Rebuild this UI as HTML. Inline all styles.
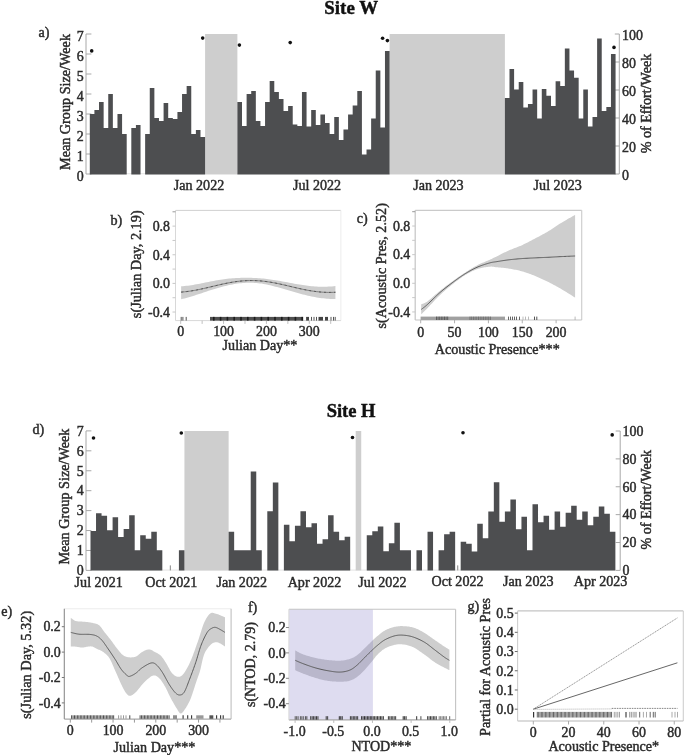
<!DOCTYPE html>
<html><head><meta charset="utf-8"><title>Site W / Site H</title>
<style>
html,body{margin:0;padding:0;background:#fff;}
body{width:685px;height:755px;overflow:hidden;}
svg{display:block;font-family:"Liberation Serif", serif;filter:blur(0.4px);}
</style></head>
<body>
<svg width="685" height="755" viewBox="0 0 685 755">
<rect x="0" y="0" width="685" height="755" fill="#fff"/>
<line x1="89.80" y1="173.70" x2="615.57" y2="173.70" stroke="#dedede" stroke-width="0.8"/>
<line x1="86.00" y1="34.00" x2="86.00" y2="174.00" stroke="#a8a8a8" stroke-width="1"/>
<line x1="86.00" y1="174.00" x2="91.40" y2="174.00" stroke="#a8a8a8" stroke-width="1"/>
<line x1="86.00" y1="154.00" x2="91.40" y2="154.00" stroke="#a8a8a8" stroke-width="1"/>
<line x1="86.00" y1="134.00" x2="91.40" y2="134.00" stroke="#a8a8a8" stroke-width="1"/>
<line x1="86.00" y1="114.00" x2="91.40" y2="114.00" stroke="#a8a8a8" stroke-width="1"/>
<line x1="86.00" y1="94.00" x2="91.40" y2="94.00" stroke="#a8a8a8" stroke-width="1"/>
<line x1="86.00" y1="74.00" x2="91.40" y2="74.00" stroke="#a8a8a8" stroke-width="1"/>
<line x1="86.00" y1="54.00" x2="91.40" y2="54.00" stroke="#a8a8a8" stroke-width="1"/>
<line x1="86.00" y1="34.00" x2="91.40" y2="34.00" stroke="#a8a8a8" stroke-width="1"/>
<line x1="619.30" y1="34.00" x2="619.30" y2="174.00" stroke="#a8a8a8" stroke-width="1"/>
<line x1="614.80" y1="174.00" x2="619.30" y2="174.00" stroke="#a8a8a8" stroke-width="1"/>
<line x1="614.80" y1="146.00" x2="619.30" y2="146.00" stroke="#a8a8a8" stroke-width="1"/>
<line x1="614.80" y1="118.00" x2="619.30" y2="118.00" stroke="#a8a8a8" stroke-width="1"/>
<line x1="614.80" y1="90.00" x2="619.30" y2="90.00" stroke="#a8a8a8" stroke-width="1"/>
<line x1="614.80" y1="62.00" x2="619.30" y2="62.00" stroke="#a8a8a8" stroke-width="1"/>
<line x1="614.80" y1="34.00" x2="619.30" y2="34.00" stroke="#a8a8a8" stroke-width="1"/>
<rect x="205.10" y="34.00" width="32.28" height="140.40" fill="#cecece"/>
<rect x="389.58" y="34.00" width="115.30" height="140.40" fill="#cecece"/>
<path d="M89.80,174.40V114.00H94.41V110.00H99.02V102.00H103.64V128.00H108.25V94.00H112.86V128.00H117.47V114.00H122.08V134.00H126.70V174.40ZM131.31,174.40V128.00H135.92V125.00H140.53V174.40ZM145.14,174.40V134.00H149.76V88.00H154.37V118.00H158.98V121.00H163.59V103.00H168.20V118.00H172.82V119.00H177.43V112.00H182.04V94.00H186.65V86.00H191.26V134.00H195.88V130.00H200.49V137.00H205.10V174.40ZM237.38,174.40V102.00H242.00V126.00H246.61V94.00H251.22V91.00H255.83V121.00H260.44V126.00H265.06V102.00H269.67V81.00H274.28V92.00H278.89V99.00H283.50V111.00H288.12V106.00H292.73V124.60H297.34V126.00H301.95V92.00H306.56V126.60H311.18V110.00H315.79V125.00H320.40V114.60H325.01V123.00H329.62V134.00H334.24V117.00H338.85V140.00H343.46V129.60H348.07V114.60H352.68V105.40H357.30V91.00H361.91V154.40H366.52V149.60H371.13V118.40H375.74V70.60H380.36V127.60H384.97V51.00H389.58V174.40ZM504.88,174.40V98.00H509.49V69.00H514.10V89.60H518.72V82.00H523.33V107.40H527.94V104.00H532.55V89.60H537.16V118.60H541.78V89.00H546.39V95.80H551.00V106.00H555.61V81.20H560.22V86.00H564.84V48.40H569.45V70.60H574.06V77.80H578.67V118.40H583.28V89.60H587.90V126.40H592.51V117.00H597.12V38.60H601.73V111.00H606.34V107.00H610.96V54.00H615.57V174.40Z" fill="#4d4e50"/>
<circle cx="91.70" cy="50.90" r="1.8" fill="#111"/>
<circle cx="202.70" cy="38.10" r="1.8" fill="#111"/>
<circle cx="239.40" cy="45.10" r="1.8" fill="#111"/>
<circle cx="290.20" cy="42.60" r="1.8" fill="#111"/>
<circle cx="382.60" cy="38.30" r="1.8" fill="#111"/>
<circle cx="387.40" cy="40.60" r="1.8" fill="#111"/>
<circle cx="614.00" cy="47.40" r="1.8" fill="#111"/>
<line x1="90.50" y1="570.10" x2="615.38" y2="570.10" stroke="#dedede" stroke-width="0.8"/>
<line x1="86.00" y1="431.00" x2="86.00" y2="570.40" stroke="#a8a8a8" stroke-width="1"/>
<line x1="86.00" y1="570.40" x2="91.40" y2="570.40" stroke="#a8a8a8" stroke-width="1"/>
<line x1="86.00" y1="550.47" x2="91.40" y2="550.47" stroke="#a8a8a8" stroke-width="1"/>
<line x1="86.00" y1="530.54" x2="91.40" y2="530.54" stroke="#a8a8a8" stroke-width="1"/>
<line x1="86.00" y1="510.61" x2="91.40" y2="510.61" stroke="#a8a8a8" stroke-width="1"/>
<line x1="86.00" y1="490.68" x2="91.40" y2="490.68" stroke="#a8a8a8" stroke-width="1"/>
<line x1="86.00" y1="470.75" x2="91.40" y2="470.75" stroke="#a8a8a8" stroke-width="1"/>
<line x1="86.00" y1="450.82" x2="91.40" y2="450.82" stroke="#a8a8a8" stroke-width="1"/>
<line x1="86.00" y1="430.89" x2="91.40" y2="430.89" stroke="#a8a8a8" stroke-width="1"/>
<line x1="620.20" y1="431.00" x2="620.20" y2="570.40" stroke="#a8a8a8" stroke-width="1"/>
<line x1="615.70" y1="570.40" x2="620.20" y2="570.40" stroke="#a8a8a8" stroke-width="1"/>
<line x1="615.70" y1="542.52" x2="620.20" y2="542.52" stroke="#a8a8a8" stroke-width="1"/>
<line x1="615.70" y1="514.64" x2="620.20" y2="514.64" stroke="#a8a8a8" stroke-width="1"/>
<line x1="615.70" y1="486.76" x2="620.20" y2="486.76" stroke="#a8a8a8" stroke-width="1"/>
<line x1="615.70" y1="458.88" x2="620.20" y2="458.88" stroke="#a8a8a8" stroke-width="1"/>
<line x1="615.70" y1="431.00" x2="620.20" y2="431.00" stroke="#a8a8a8" stroke-width="1"/>
<rect x="184.43" y="431.00" width="44.20" height="139.40" fill="#cecece"/>
<rect x="355.70" y="431.00" width="5.53" height="139.40" fill="#cecece"/>
<path d="M90.50,570.40V530.88H96.03V513.23H101.55V515.84H107.08V530.28H112.60V517.24H118.12V536.90H123.65V528.88H129.18V515.24H134.70V550.34H140.22V535.29H145.75V538.71H151.28V531.68H156.80V550.34H162.32V570.40ZM178.90,570.40V550.34H184.43V570.40ZM228.62,570.40V531.68H234.15V550.34H239.68V550.34H245.20V550.34H250.73V471.50H256.25V550.34H261.77V570.40ZM267.30,570.40V511.22H272.83V482.54H278.35V570.40ZM283.88,570.40V524.86H289.40V541.31H294.93V525.87H300.45V511.22H305.98V527.27H311.50V523.26H317.02V543.72H322.55V539.31H328.08V515.24H333.60V531.68H339.12V540.31H344.65V536.70H350.18V570.40ZM366.75,570.40V535.29H372.28V531.28H377.80V526.47H383.33V551.14H388.85V543.32H394.38V522.86H399.90V550.34H405.43V550.34H410.95V570.40ZM416.48,570.40V550.34H422.00V570.40ZM427.53,570.40V531.68H433.05V570.40ZM438.58,570.40V550.34H444.10V534.29H449.62V531.68H455.15V570.40ZM460.68,570.40V541.71H466.20V543.72H471.73V551.54H477.25V523.66H482.78V538.30H488.30V511.42H493.83V482.14H499.35V521.85H504.88V511.42H510.40V499.39H515.92V529.28H521.45V516.84H526.98V550.34H532.50V504.20H538.03V522.26H543.55V515.84H549.08V529.68H554.60V511.42H560.12V526.87H565.65V512.83H571.17V505.81H576.70V519.85H582.23V511.42H587.75V525.26H593.28V516.64H598.80V506.41H604.33V513.83H609.85V531.68H615.38V570.40Z" fill="#4d4e50"/>
<rect x="169.78" y="565.38" width="1.20" height="5.01" fill="#9a9a9a"/>
<rect x="457.08" y="565.38" width="1.20" height="5.01" fill="#9a9a9a"/>
<circle cx="93.50" cy="438.00" r="1.8" fill="#111"/>
<circle cx="181.30" cy="433.00" r="1.8" fill="#111"/>
<circle cx="352.50" cy="437.50" r="1.8" fill="#111"/>
<circle cx="463.00" cy="432.80" r="1.8" fill="#111"/>
<circle cx="612.20" cy="434.90" r="1.8" fill="#111"/>
<text x="351.20" y="14.00" font-size="18.9" text-anchor="middle" font-weight="bold" fill="#111" stroke="#111" stroke-width="0.45">Site W</text>
<text x="38.50" y="36.60" font-size="14.1" text-anchor="start" font-weight="normal" fill="#2b2b2b" stroke="#2b2b2b" stroke-width="0.45">a)</text>
<text x="83.70" y="180.95" font-size="13.9" text-anchor="end" font-weight="normal" fill="#2b2b2b" stroke="#2b2b2b" stroke-width="0.45">0</text>
<text x="83.70" y="160.95" font-size="13.9" text-anchor="end" font-weight="normal" fill="#2b2b2b" stroke="#2b2b2b" stroke-width="0.45">1</text>
<text x="83.70" y="140.95" font-size="13.9" text-anchor="end" font-weight="normal" fill="#2b2b2b" stroke="#2b2b2b" stroke-width="0.45">2</text>
<text x="83.70" y="120.95" font-size="13.9" text-anchor="end" font-weight="normal" fill="#2b2b2b" stroke="#2b2b2b" stroke-width="0.45">3</text>
<text x="83.70" y="100.95" font-size="13.9" text-anchor="end" font-weight="normal" fill="#2b2b2b" stroke="#2b2b2b" stroke-width="0.45">4</text>
<text x="83.70" y="80.95" font-size="13.9" text-anchor="end" font-weight="normal" fill="#2b2b2b" stroke="#2b2b2b" stroke-width="0.45">5</text>
<text x="83.70" y="60.95" font-size="13.9" text-anchor="end" font-weight="normal" fill="#2b2b2b" stroke="#2b2b2b" stroke-width="0.45">6</text>
<text x="83.70" y="40.95" font-size="13.9" text-anchor="end" font-weight="normal" fill="#2b2b2b" stroke="#2b2b2b" stroke-width="0.45">7</text>
<text x="622.00" y="179.75" font-size="13.9" text-anchor="start" font-weight="normal" fill="#2b2b2b" stroke="#2b2b2b" stroke-width="0.45">0</text>
<text x="622.00" y="151.71" font-size="13.9" text-anchor="start" font-weight="normal" fill="#2b2b2b" stroke="#2b2b2b" stroke-width="0.45">20</text>
<text x="622.00" y="123.67" font-size="13.9" text-anchor="start" font-weight="normal" fill="#2b2b2b" stroke="#2b2b2b" stroke-width="0.45">40</text>
<text x="622.00" y="95.63" font-size="13.9" text-anchor="start" font-weight="normal" fill="#2b2b2b" stroke="#2b2b2b" stroke-width="0.45">60</text>
<text x="622.00" y="67.59" font-size="13.9" text-anchor="start" font-weight="normal" fill="#2b2b2b" stroke="#2b2b2b" stroke-width="0.45">80</text>
<text x="622.00" y="39.55" font-size="13.9" text-anchor="start" font-weight="normal" fill="#2b2b2b" stroke="#2b2b2b" stroke-width="0.45">100</text>
<text x="69.50" y="102.00" font-size="14.2" text-anchor="middle" font-weight="normal" fill="#2b2b2b" stroke="#2b2b2b" stroke-width="0.45" transform="rotate(-90 69.5 102.0)">Mean Group Size/Week</text>
<text x="651.00" y="103.50" font-size="14.1" text-anchor="middle" font-weight="normal" fill="#2b2b2b" stroke="#2b2b2b" stroke-width="0.45" transform="rotate(-90 651.0 103.5)">% of Effort/Week</text>
<text x="199.00" y="190.40" font-size="14.1" text-anchor="middle" font-weight="normal" fill="#2b2b2b" stroke="#2b2b2b" stroke-width="0.45">Jan 2022</text>
<text x="317.00" y="190.40" font-size="14.1" text-anchor="middle" font-weight="normal" fill="#2b2b2b" stroke="#2b2b2b" stroke-width="0.45">Jul 2022</text>
<text x="438.40" y="190.40" font-size="14.1" text-anchor="middle" font-weight="normal" fill="#2b2b2b" stroke="#2b2b2b" stroke-width="0.45">Jan 2023</text>
<text x="557.70" y="190.40" font-size="14.1" text-anchor="middle" font-weight="normal" fill="#2b2b2b" stroke="#2b2b2b" stroke-width="0.45">Jul 2023</text>
<text x="351.10" y="417.00" font-size="18.5" text-anchor="middle" font-weight="bold" fill="#111" stroke="#111" stroke-width="0.45">Site H</text>
<text x="32.50" y="433.90" font-size="14.1" text-anchor="start" font-weight="normal" fill="#2b2b2b" stroke="#2b2b2b" stroke-width="0.45">d)</text>
<text x="83.60" y="575.15" font-size="13.9" text-anchor="end" font-weight="normal" fill="#2b2b2b" stroke="#2b2b2b" stroke-width="0.45">0</text>
<text x="83.60" y="555.22" font-size="13.9" text-anchor="end" font-weight="normal" fill="#2b2b2b" stroke="#2b2b2b" stroke-width="0.45">1</text>
<text x="83.60" y="535.29" font-size="13.9" text-anchor="end" font-weight="normal" fill="#2b2b2b" stroke="#2b2b2b" stroke-width="0.45">2</text>
<text x="83.60" y="515.36" font-size="13.9" text-anchor="end" font-weight="normal" fill="#2b2b2b" stroke="#2b2b2b" stroke-width="0.45">3</text>
<text x="83.60" y="495.43" font-size="13.9" text-anchor="end" font-weight="normal" fill="#2b2b2b" stroke="#2b2b2b" stroke-width="0.45">4</text>
<text x="83.60" y="475.50" font-size="13.9" text-anchor="end" font-weight="normal" fill="#2b2b2b" stroke="#2b2b2b" stroke-width="0.45">5</text>
<text x="83.60" y="455.57" font-size="13.9" text-anchor="end" font-weight="normal" fill="#2b2b2b" stroke="#2b2b2b" stroke-width="0.45">6</text>
<text x="83.60" y="435.64" font-size="13.9" text-anchor="end" font-weight="normal" fill="#2b2b2b" stroke="#2b2b2b" stroke-width="0.45">7</text>
<text x="622.50" y="575.15" font-size="13.9" text-anchor="start" font-weight="normal" fill="#2b2b2b" stroke="#2b2b2b" stroke-width="0.45">0</text>
<text x="622.50" y="547.27" font-size="13.9" text-anchor="start" font-weight="normal" fill="#2b2b2b" stroke="#2b2b2b" stroke-width="0.45">20</text>
<text x="622.50" y="519.39" font-size="13.9" text-anchor="start" font-weight="normal" fill="#2b2b2b" stroke="#2b2b2b" stroke-width="0.45">40</text>
<text x="622.50" y="491.51" font-size="13.9" text-anchor="start" font-weight="normal" fill="#2b2b2b" stroke="#2b2b2b" stroke-width="0.45">60</text>
<text x="622.50" y="463.63" font-size="13.9" text-anchor="start" font-weight="normal" fill="#2b2b2b" stroke="#2b2b2b" stroke-width="0.45">80</text>
<text x="622.50" y="435.75" font-size="13.9" text-anchor="start" font-weight="normal" fill="#2b2b2b" stroke="#2b2b2b" stroke-width="0.45">100</text>
<text x="69.50" y="496.60" font-size="14.2" text-anchor="middle" font-weight="normal" fill="#2b2b2b" stroke="#2b2b2b" stroke-width="0.45" transform="rotate(-90 69.5 496.6)">Mean Group Size/Week</text>
<text x="651.50" y="499.80" font-size="14.1" text-anchor="middle" font-weight="normal" fill="#2b2b2b" stroke="#2b2b2b" stroke-width="0.45" transform="rotate(-90 651.5 499.8)">% of Effort/Week</text>
<text x="98.70" y="587.30" font-size="14.1" text-anchor="middle" font-weight="normal" fill="#2b2b2b" stroke="#2b2b2b" stroke-width="0.45">Jul 2021</text>
<text x="171.30" y="587.30" font-size="14.1" text-anchor="middle" font-weight="normal" fill="#2b2b2b" stroke="#2b2b2b" stroke-width="0.45">Oct 2021</text>
<text x="241.80" y="587.30" font-size="14.1" text-anchor="middle" font-weight="normal" fill="#2b2b2b" stroke="#2b2b2b" stroke-width="0.45">Jan 2022</text>
<text x="314.50" y="587.30" font-size="14.1" text-anchor="middle" font-weight="normal" fill="#2b2b2b" stroke="#2b2b2b" stroke-width="0.45">Apr 2022</text>
<text x="382.40" y="587.00" font-size="14.1" text-anchor="middle" font-weight="normal" fill="#2b2b2b" stroke="#2b2b2b" stroke-width="0.45">Jul 2022</text>
<text x="457.50" y="585.50" font-size="14.1" text-anchor="middle" font-weight="normal" fill="#2b2b2b" stroke="#2b2b2b" stroke-width="0.45">Oct 2022</text>
<text x="528.30" y="585.50" font-size="14.1" text-anchor="middle" font-weight="normal" fill="#2b2b2b" stroke="#2b2b2b" stroke-width="0.45">Jan 2023</text>
<text x="600.60" y="585.50" font-size="14.1" text-anchor="middle" font-weight="normal" fill="#2b2b2b" stroke="#2b2b2b" stroke-width="0.45">Apr 2023</text>
<path d="M181.13,286.33 L182.84,286.20 L184.56,286.05 L186.27,285.86 L187.99,285.65 L189.70,285.42 L191.41,285.17 L193.13,284.90 L194.84,284.61 L196.56,284.30 L198.27,283.98 L199.99,283.65 L201.70,283.31 L203.42,282.97 L205.13,282.62 L206.84,282.26 L208.56,281.91 L210.27,281.56 L211.99,281.22 L213.70,280.89 L215.42,280.57 L217.13,280.27 L218.85,279.98 L220.56,279.71 L222.27,279.46 L223.99,279.22 L225.70,279.00 L227.42,278.80 L229.13,278.61 L230.85,278.44 L232.56,278.29 L234.27,278.16 L235.99,278.05 L237.70,277.96 L239.42,277.88 L241.13,277.83 L242.85,277.79 L244.56,277.77 L246.28,277.76 L247.99,277.77 L249.70,277.80 L251.42,277.84 L253.13,277.89 L254.85,277.96 L256.56,278.05 L258.28,278.16 L259.99,278.29 L261.71,278.44 L263.42,278.60 L265.13,278.78 L266.85,278.98 L268.56,279.19 L270.28,279.42 L271.99,279.66 L273.71,279.92 L275.42,280.19 L277.13,280.47 L278.85,280.76 L280.56,281.06 L282.28,281.38 L283.99,281.70 L285.71,282.02 L287.42,282.36 L289.14,282.69 L290.85,283.02 L292.56,283.35 L294.28,283.66 L295.99,283.98 L297.71,284.28 L299.42,284.57 L301.14,284.85 L302.85,285.12 L304.57,285.37 L306.28,285.61 L307.99,285.82 L309.71,286.02 L311.42,286.20 L313.14,286.35 L314.85,286.49 L316.57,286.60 L318.28,286.68 L320.00,286.74 L321.71,286.77 L323.42,286.77 L325.14,286.75 L326.85,286.70 L328.57,286.62 L330.28,286.51 L332.00,286.38 L333.71,286.22 L335.42,286.06 L335.42,298.96 L333.71,298.98 L332.00,298.95 L330.28,298.89 L328.57,298.80 L326.85,298.69 L325.14,298.54 L323.42,298.37 L321.71,298.17 L320.00,297.95 L318.28,297.70 L316.57,297.42 L314.85,297.12 L313.14,296.80 L311.42,296.45 L309.71,296.08 L307.99,295.69 L306.28,295.29 L304.57,294.86 L302.85,294.42 L301.14,293.97 L299.42,293.51 L297.71,293.03 L295.99,292.55 L294.28,292.06 L292.56,291.56 L290.85,291.06 L289.14,290.57 L287.42,290.07 L285.71,289.56 L283.99,289.06 L282.28,288.56 L280.56,288.07 L278.85,287.58 L277.13,287.10 L275.42,286.63 L273.71,286.17 L271.99,285.74 L270.28,285.32 L268.56,284.92 L266.85,284.55 L265.13,284.21 L263.42,283.90 L261.71,283.62 L259.99,283.38 L258.28,283.17 L256.56,283.00 L254.85,282.88 L253.13,282.79 L251.42,282.74 L249.70,282.72 L247.99,282.75 L246.28,282.81 L244.56,282.90 L242.85,283.02 L241.13,283.18 L239.42,283.36 L237.70,283.58 L235.99,283.83 L234.27,284.11 L232.56,284.41 L230.85,284.74 L229.13,285.10 L227.42,285.48 L225.70,285.88 L223.99,286.30 L222.27,286.74 L220.56,287.20 L218.85,287.68 L217.13,288.17 L215.42,288.67 L213.70,289.19 L211.99,289.72 L210.27,290.26 L208.56,290.83 L206.84,291.40 L205.13,291.97 L203.42,292.55 L201.70,293.13 L199.99,293.71 L198.27,294.29 L196.56,294.85 L194.84,295.40 L193.13,295.95 L191.41,296.47 L189.70,296.98 L187.99,297.47 L186.27,297.94 L184.56,298.38 L182.84,298.79 L181.13,299.17 Z" fill="#cecece"/>
<path d="M181.13,292.12 L182.84,291.98 L184.56,291.81 L186.27,291.62 L187.99,291.40 L189.70,291.16 L191.41,290.90 L193.13,290.62 L194.84,290.31 L196.56,289.99 L198.27,289.65 L199.99,289.30 L201.70,288.93 L203.42,288.56 L205.13,288.17 L206.84,287.77 L208.56,287.37 L210.27,286.96 L211.99,286.56 L213.70,286.15 L215.42,285.74 L217.13,285.34 L218.85,284.94 L220.56,284.55 L222.27,284.16 L223.99,283.79 L225.70,283.43 L227.42,283.09 L229.13,282.76 L230.85,282.45 L232.56,282.16 L234.27,281.89 L235.99,281.64 L237.70,281.42 L239.42,281.21 L241.13,281.04 L242.85,280.88 L244.56,280.76 L246.28,280.66 L247.99,280.59 L249.70,280.55 L251.42,280.54 L253.13,280.55 L254.85,280.59 L256.56,280.66 L258.28,280.76 L259.99,280.88 L261.71,281.04 L263.42,281.21 L265.13,281.42 L266.85,281.64 L268.56,281.89 L270.28,282.16 L271.99,282.45 L273.71,282.76 L275.42,283.09 L277.13,283.43 L278.85,283.79 L280.56,284.16 L282.28,284.55 L283.99,284.94 L285.71,285.34 L287.42,285.74 L289.14,286.15 L290.85,286.56 L292.56,286.96 L294.28,287.37 L295.99,287.77 L297.71,288.17 L299.42,288.56 L301.14,288.93 L302.85,289.30 L304.57,289.65 L306.28,289.99 L307.99,290.31 L309.71,290.62 L311.42,290.90 L313.14,291.16 L314.85,291.40 L316.57,291.62 L318.28,291.81 L320.00,291.98 L321.71,292.12 L323.42,292.24 L325.14,292.32 L326.85,292.38 L328.57,292.42 L330.28,292.42 L332.00,292.39 L333.71,292.34 L335.42,292.26" fill="none" stroke="#7c7c7c" stroke-width="0.95"/>
<path d="M181.13,292.12 L182.84,291.98 L184.56,291.81 L186.27,291.62 L187.99,291.40 L189.70,291.16 L191.41,290.90 L193.13,290.62 L194.84,290.31 L196.56,289.99 L198.27,289.65 L199.99,289.30 L201.70,288.93 L203.42,288.56 L205.13,288.17 L206.84,287.77 L208.56,287.37 L210.27,286.96 L211.99,286.56 L213.70,286.15 L215.42,285.74 L217.13,285.34 L218.85,284.94 L220.56,284.55 L222.27,284.16 L223.99,283.79 L225.70,283.43 L227.42,283.09 L229.13,282.76 L230.85,282.45 L232.56,282.16 L234.27,281.89 L235.99,281.64 L237.70,281.42 L239.42,281.21 L241.13,281.04 L242.85,280.88 L244.56,280.76 L246.28,280.66 L247.99,280.59 L249.70,280.55 L251.42,280.54 L253.13,280.55 L254.85,280.59 L256.56,280.66 L258.28,280.76 L259.99,280.88 L261.71,281.04 L263.42,281.21 L265.13,281.42 L266.85,281.64 L268.56,281.89 L270.28,282.16 L271.99,282.45 L273.71,282.76 L275.42,283.09 L277.13,283.43 L278.85,283.79 L280.56,284.16 L282.28,284.55 L283.99,284.94 L285.71,285.34 L287.42,285.74 L289.14,286.15 L290.85,286.56 L292.56,286.96 L294.28,287.37 L295.99,287.77 L297.71,288.17 L299.42,288.56 L301.14,288.93 L302.85,289.30 L304.57,289.65 L306.28,289.99 L307.99,290.31 L309.71,290.62 L311.42,290.90 L313.14,291.16 L314.85,291.40 L316.57,291.62 L318.28,291.81 L320.00,291.98 L321.71,292.12 L323.42,292.24 L325.14,292.32 L326.85,292.38 L328.57,292.42 L330.28,292.42 L332.00,292.39 L333.71,292.34 L335.42,292.26" fill="none" stroke="#505050" stroke-width="0.85" stroke-dasharray="2.2,2.8"/>
<line x1="175.50" y1="210.40" x2="340.90" y2="210.40" stroke="#d0d0d0" stroke-width="1.0"/>
<line x1="340.90" y1="210.40" x2="340.90" y2="320.60" stroke="#ececec" stroke-width="1.0"/>
<line x1="175.50" y1="320.60" x2="340.90" y2="320.60" stroke="#d8d8d8" stroke-width="1.0"/>
<line x1="175.50" y1="210.40" x2="175.50" y2="320.60" stroke="#d8d8d8" stroke-width="1.0"/>
<line x1="172.50" y1="312.04" x2="175.50" y2="312.04" stroke="#c8c8c8" stroke-width="1"/>
<line x1="172.50" y1="297.72" x2="175.50" y2="297.72" stroke="#c8c8c8" stroke-width="1"/>
<line x1="172.50" y1="283.40" x2="175.50" y2="283.40" stroke="#c8c8c8" stroke-width="1"/>
<line x1="172.50" y1="269.08" x2="175.50" y2="269.08" stroke="#c8c8c8" stroke-width="1"/>
<line x1="172.50" y1="254.76" x2="175.50" y2="254.76" stroke="#c8c8c8" stroke-width="1"/>
<line x1="172.50" y1="240.44" x2="175.50" y2="240.44" stroke="#c8c8c8" stroke-width="1"/>
<line x1="172.50" y1="226.12" x2="175.50" y2="226.12" stroke="#c8c8c8" stroke-width="1"/>
<line x1="172.50" y1="211.80" x2="175.50" y2="211.80" stroke="#9a9a9a" stroke-width="1"/>
<text x="170.00" y="316.79" font-size="13.9" text-anchor="end" font-weight="normal" fill="#2b2b2b" stroke="#2b2b2b" stroke-width="0.45">-0.4</text>
<text x="170.00" y="288.15" font-size="13.9" text-anchor="end" font-weight="normal" fill="#2b2b2b" stroke="#2b2b2b" stroke-width="0.45">0.0</text>
<text x="170.00" y="259.51" font-size="13.9" text-anchor="end" font-weight="normal" fill="#2b2b2b" stroke="#2b2b2b" stroke-width="0.45">0.4</text>
<text x="170.00" y="230.87" font-size="13.9" text-anchor="end" font-weight="normal" fill="#2b2b2b" stroke="#2b2b2b" stroke-width="0.45">0.8</text>
<line x1="180.70" y1="320.60" x2="180.70" y2="323.90" stroke="#c0c0c0" stroke-width="1"/>
<line x1="202.13" y1="320.60" x2="202.13" y2="323.90" stroke="#c0c0c0" stroke-width="1"/>
<line x1="223.56" y1="320.60" x2="223.56" y2="323.90" stroke="#c0c0c0" stroke-width="1"/>
<line x1="244.99" y1="320.60" x2="244.99" y2="323.90" stroke="#c0c0c0" stroke-width="1"/>
<line x1="266.42" y1="320.60" x2="266.42" y2="323.90" stroke="#c0c0c0" stroke-width="1"/>
<line x1="287.85" y1="320.60" x2="287.85" y2="323.90" stroke="#c0c0c0" stroke-width="1"/>
<line x1="309.28" y1="320.60" x2="309.28" y2="323.90" stroke="#c0c0c0" stroke-width="1"/>
<line x1="330.71" y1="320.60" x2="330.71" y2="323.90" stroke="#c0c0c0" stroke-width="1"/>
<text x="180.70" y="335.50" font-size="13.9" text-anchor="middle" font-weight="normal" fill="#2b2b2b" stroke="#2b2b2b" stroke-width="0.45">0</text>
<text x="223.56" y="335.50" font-size="13.9" text-anchor="middle" font-weight="normal" fill="#2b2b2b" stroke="#2b2b2b" stroke-width="0.45">100</text>
<text x="266.42" y="335.50" font-size="13.9" text-anchor="middle" font-weight="normal" fill="#2b2b2b" stroke="#2b2b2b" stroke-width="0.45">200</text>
<text x="309.28" y="335.50" font-size="13.9" text-anchor="middle" font-weight="normal" fill="#2b2b2b" stroke="#2b2b2b" stroke-width="0.45">300</text>
<text x="116.40" y="225.00" font-size="14.1" text-anchor="middle" font-weight="normal" fill="#2b2b2b" stroke="#2b2b2b" stroke-width="0.45">b)</text>
<text x="141.00" y="264.25" font-size="14.3" text-anchor="middle" font-weight="normal" fill="#2b2b2b" stroke="#2b2b2b" stroke-width="0.45" transform="rotate(-90 141.0 264.25)">s(Julian Day, 2.19)</text>
<text x="260.00" y="350.10" font-size="14.1" text-anchor="middle" font-weight="normal" fill="#2b2b2b" stroke="#2b2b2b" stroke-width="0.45">Julian Day**</text>
<path d="M181.20,316.90V320.60M182.90,316.90V320.60M186.20,316.90V320.60" stroke="#555" stroke-width="1.0" fill="none"/>
<rect x="210.00" y="316.90" width="93.20" height="3.70" fill="#505050"/>
<rect x="213.00" y="316.90" width="1.6" height="3.70" fill="#1c1c1c"/>
<rect x="219.80" y="316.90" width="1.6" height="3.70" fill="#1c1c1c"/>
<rect x="226.60" y="316.90" width="1.6" height="3.70" fill="#1c1c1c"/>
<rect x="233.40" y="316.90" width="1.6" height="3.70" fill="#1c1c1c"/>
<rect x="240.20" y="316.90" width="1.6" height="3.70" fill="#1c1c1c"/>
<rect x="247.00" y="316.90" width="1.6" height="3.70" fill="#1c1c1c"/>
<rect x="253.80" y="316.90" width="1.6" height="3.70" fill="#1c1c1c"/>
<rect x="260.60" y="316.90" width="1.6" height="3.70" fill="#1c1c1c"/>
<rect x="267.40" y="316.90" width="1.6" height="3.70" fill="#1c1c1c"/>
<rect x="274.20" y="316.90" width="1.6" height="3.70" fill="#1c1c1c"/>
<rect x="281.00" y="316.90" width="1.6" height="3.70" fill="#1c1c1c"/>
<rect x="287.80" y="316.90" width="1.6" height="3.70" fill="#1c1c1c"/>
<rect x="294.60" y="316.90" width="1.6" height="3.70" fill="#1c1c1c"/>
<rect x="301.40" y="316.90" width="1.6" height="3.70" fill="#1c1c1c"/>
<rect x="306.10" y="316.90" width="2.90" height="3.70" fill="#444"/>
<rect x="318.50" y="316.90" width="4.50" height="3.70" fill="#444"/>
<rect x="325.00" y="316.90" width="3.00" height="3.70" fill="#444"/>
<path d="M311.50,316.90V320.60M314.00,316.90V320.60M316.50,316.90V320.60M331.00,316.90V320.60M333.50,316.90V320.60M335.20,316.90V320.60" stroke="#555" stroke-width="1.0" fill="none"/>
<path d="M421.20,304.30 L421.48,304.18 L421.80,304.07 L422.17,303.96 L422.58,303.83 L423.03,303.68 L423.52,303.51 L424.06,303.29 L424.64,303.04 L425.27,302.73 L425.94,302.36 L426.65,301.92 L427.40,301.40 L428.22,300.79 L429.11,300.08 L430.06,299.28 L431.07,298.42 L432.13,297.51 L433.21,296.56 L434.32,295.58 L435.44,294.60 L436.55,293.63 L437.66,292.67 L438.75,291.76 L439.80,290.90 L440.83,290.08 L441.87,289.26 L442.90,288.45 L443.93,287.66 L444.97,286.86 L446.00,286.08 L447.03,285.30 L448.07,284.53 L449.10,283.77 L450.13,283.01 L451.17,282.25 L452.20,281.50 L453.23,280.75 L454.27,280.01 L455.30,279.27 L456.33,278.53 L457.37,277.80 L458.40,277.08 L459.43,276.36 L460.47,275.66 L461.50,274.95 L462.53,274.26 L463.57,273.58 L464.60,272.90 L465.63,272.23 L466.67,271.56 L467.70,270.90 L468.73,270.24 L469.77,269.60 L470.80,268.96 L471.83,268.33 L472.87,267.71 L473.90,267.11 L474.93,266.52 L475.97,265.95 L477.00,265.40 L478.05,264.87 L479.12,264.35 L480.21,263.84 L481.31,263.35 L482.41,262.87 L483.50,262.41 L484.57,261.96 L485.62,261.52 L486.64,261.09 L487.61,260.68 L488.53,260.29 L489.40,259.90 L490.19,259.54 L490.90,259.21 L491.55,258.91 L492.16,258.63 L492.72,258.37 L493.27,258.11 L493.82,257.85 L494.38,257.58 L494.96,257.30 L495.58,256.99 L496.26,256.66 L497.00,256.30 L497.80,255.90 L498.63,255.48 L499.50,255.03 L500.39,254.57 L501.31,254.09 L502.24,253.61 L503.20,253.11 L504.18,252.62 L505.17,252.13 L506.17,251.64 L507.18,251.16 L508.20,250.70 L509.24,250.25 L510.30,249.82 L511.38,249.39 L512.48,248.96 L513.60,248.54 L514.73,248.12 L515.86,247.69 L517.00,247.26 L518.13,246.82 L519.26,246.36 L520.39,245.89 L521.50,245.40 L522.60,244.89 L523.71,244.37 L524.81,243.84 L525.91,243.29 L527.01,242.73 L528.11,242.17 L529.21,241.60 L530.30,241.02 L531.40,240.44 L532.50,239.86 L533.60,239.28 L534.70,238.70 L535.80,238.12 L536.90,237.55 L538.00,236.97 L539.10,236.39 L540.19,235.81 L541.29,235.22 L542.39,234.62 L543.49,234.02 L544.59,233.41 L545.69,232.79 L546.80,232.15 L547.90,231.50 L549.00,230.83 L550.10,230.14 L551.20,229.43 L552.30,228.71 L553.40,227.99 L554.51,227.25 L555.61,226.51 L556.72,225.77 L557.83,225.04 L558.95,224.31 L560.07,223.60 L561.20,222.90 L562.38,222.19 L563.64,221.44 L564.96,220.67 L566.30,219.89 L567.65,219.12 L568.98,218.36 L570.26,217.64 L571.47,216.95 L572.59,216.32 L573.58,215.76 L574.43,215.28 L575.10,214.90 L575.10,297.60 L574.43,297.18 L573.58,296.65 L572.59,296.02 L571.47,295.32 L570.26,294.56 L568.98,293.75 L567.65,292.92 L566.30,292.08 L564.96,291.25 L563.64,290.45 L562.38,289.70 L561.20,289.00 L560.07,288.35 L558.95,287.71 L557.83,287.07 L556.72,286.45 L555.61,285.84 L554.51,285.24 L553.40,284.64 L552.30,284.06 L551.20,283.48 L550.10,282.91 L549.00,282.35 L547.90,281.80 L546.80,281.25 L545.69,280.71 L544.59,280.18 L543.49,279.66 L542.39,279.14 L541.29,278.64 L540.19,278.14 L539.10,277.65 L538.00,277.17 L536.90,276.71 L535.80,276.25 L534.70,275.80 L533.60,275.36 L532.50,274.93 L531.40,274.51 L530.30,274.09 L529.21,273.69 L528.11,273.29 L527.01,272.91 L525.91,272.54 L524.81,272.18 L523.71,271.84 L522.60,271.51 L521.50,271.20 L520.39,270.90 L519.26,270.62 L518.13,270.36 L517.00,270.10 L515.86,269.86 L514.73,269.64 L513.60,269.42 L512.48,269.22 L511.38,269.03 L510.30,268.84 L509.24,268.67 L508.20,268.50 L507.18,268.35 L506.17,268.21 L505.17,268.08 L504.18,267.97 L503.20,267.86 L502.24,267.77 L501.31,267.68 L500.39,267.60 L499.50,267.52 L498.63,267.45 L497.80,267.37 L497.00,267.30 L496.26,267.22 L495.58,267.13 L494.96,267.04 L494.38,266.94 L493.82,266.85 L493.27,266.77 L492.72,266.70 L492.16,266.65 L491.55,266.62 L490.90,266.61 L490.19,266.64 L489.40,266.70 L488.53,266.79 L487.61,266.89 L486.64,267.02 L485.62,267.17 L484.57,267.33 L483.50,267.52 L482.41,267.74 L481.31,267.98 L480.21,268.24 L479.12,268.53 L478.05,268.85 L477.00,269.20 L475.97,269.58 L474.93,269.99 L473.90,270.42 L472.87,270.89 L471.83,271.37 L470.80,271.89 L469.77,272.42 L468.73,272.98 L467.70,273.56 L466.67,274.16 L465.63,274.77 L464.60,275.40 L463.57,276.05 L462.53,276.73 L461.50,277.43 L460.47,278.16 L459.43,278.91 L458.40,279.67 L457.37,280.45 L456.33,281.24 L455.30,282.04 L454.27,282.86 L453.23,283.68 L452.20,284.50 L451.17,285.33 L450.13,286.16 L449.10,287.01 L448.07,287.86 L447.03,288.73 L446.00,289.61 L444.97,290.50 L443.93,291.40 L442.90,292.33 L441.87,293.27 L440.83,294.22 L439.80,295.20 L438.75,296.22 L437.66,297.31 L436.55,298.45 L435.44,299.61 L434.32,300.80 L433.21,301.98 L432.13,303.15 L431.07,304.29 L430.06,305.37 L429.11,306.40 L428.22,307.35 L427.40,308.20 L426.65,308.97 L425.94,309.70 L425.27,310.37 L424.64,311.00 L424.06,311.58 L423.52,312.11 L423.03,312.60 L422.58,313.04 L422.17,313.45 L421.80,313.80 L421.48,314.12 L421.20,314.40 Z" fill="#cecece"/>
<path d="M421.20,309.50 L421.48,309.28 L421.80,309.03 L422.17,308.76 L422.58,308.46 L423.03,308.12 L423.52,307.74 L424.06,307.32 L424.64,306.86 L425.27,306.35 L425.94,305.78 L426.65,305.17 L427.40,304.50 L428.22,303.75 L429.11,302.90 L430.06,301.98 L431.07,301.00 L432.13,299.97 L433.21,298.91 L434.32,297.83 L435.44,296.74 L436.55,295.68 L437.66,294.64 L438.75,293.64 L439.80,292.70 L440.83,291.80 L441.87,290.93 L442.90,290.06 L443.93,289.21 L444.97,288.38 L446.00,287.56 L447.03,286.74 L448.07,285.94 L449.10,285.15 L450.13,284.36 L451.17,283.58 L452.20,282.80 L453.23,282.03 L454.27,281.26 L455.30,280.50 L456.33,279.74 L457.37,278.99 L458.40,278.26 L459.43,277.53 L460.47,276.81 L461.50,276.11 L462.53,275.43 L463.57,274.75 L464.60,274.10 L465.63,273.46 L466.67,272.83 L467.70,272.21 L468.73,271.60 L469.77,271.01 L470.80,270.43 L471.83,269.86 L472.87,269.31 L473.90,268.78 L474.93,268.27 L475.97,267.77 L477.00,267.30 L478.05,266.84 L479.12,266.41 L480.21,265.98 L481.31,265.57 L482.41,265.18 L483.50,264.81 L484.57,264.46 L485.62,264.13 L486.64,263.81 L487.61,263.52 L488.53,263.25 L489.40,263.00 L490.19,262.78 L490.90,262.60 L491.55,262.45 L492.16,262.33 L492.72,262.23 L493.27,262.14 L493.82,262.06 L494.38,261.98 L494.96,261.90 L495.58,261.82 L496.26,261.72 L497.00,261.60 L497.80,261.47 L498.63,261.33 L499.50,261.19 L500.39,261.04 L501.31,260.89 L502.24,260.74 L503.20,260.60 L504.18,260.45 L505.17,260.30 L506.17,260.16 L507.18,260.03 L508.20,259.90 L509.24,259.78 L510.30,259.65 L511.38,259.53 L512.48,259.41 L513.60,259.30 L514.73,259.19 L515.86,259.08 L517.00,258.97 L518.13,258.87 L519.26,258.78 L520.39,258.69 L521.50,258.60 L522.60,258.52 L523.71,258.45 L524.81,258.38 L525.91,258.32 L527.01,258.26 L528.11,258.21 L529.21,258.15 L530.30,258.10 L531.40,258.05 L532.50,258.00 L533.60,257.95 L534.70,257.90 L535.80,257.85 L536.90,257.80 L538.00,257.75 L539.10,257.70 L540.19,257.65 L541.29,257.60 L542.39,257.55 L543.49,257.50 L544.59,257.45 L545.69,257.40 L546.80,257.35 L547.90,257.30 L549.00,257.24 L550.10,257.19 L551.20,257.13 L552.30,257.07 L553.40,257.01 L554.51,256.95 L555.61,256.89 L556.72,256.83 L557.83,256.77 L558.95,256.71 L560.07,256.66 L561.20,256.60 L562.38,256.54 L563.64,256.49 L564.96,256.43 L566.30,256.37 L567.65,256.31 L568.98,256.26 L570.26,256.20 L571.47,256.15 L572.59,256.11 L573.58,256.06 L574.43,256.03 L575.10,256.00" fill="none" stroke="#5a5a5a" stroke-width="1.0"/>
<line x1="415.20" y1="210.30" x2="581.70" y2="210.30" stroke="#cacaca" stroke-width="1.2"/>
<line x1="581.70" y1="210.30" x2="581.70" y2="320.00" stroke="#cfcfcf" stroke-width="1.2"/>
<line x1="415.20" y1="320.00" x2="581.70" y2="320.00" stroke="#c4c4c4" stroke-width="1.2"/>
<line x1="415.20" y1="210.30" x2="415.20" y2="320.00" stroke="#c4c4c4" stroke-width="1.2"/>
<line x1="412.20" y1="311.94" x2="415.20" y2="311.94" stroke="#c8c8c8" stroke-width="1"/>
<line x1="412.20" y1="297.62" x2="415.20" y2="297.62" stroke="#c8c8c8" stroke-width="1"/>
<line x1="412.20" y1="283.30" x2="415.20" y2="283.30" stroke="#c8c8c8" stroke-width="1"/>
<line x1="412.20" y1="268.98" x2="415.20" y2="268.98" stroke="#c8c8c8" stroke-width="1"/>
<line x1="412.20" y1="254.66" x2="415.20" y2="254.66" stroke="#c8c8c8" stroke-width="1"/>
<line x1="412.20" y1="240.34" x2="415.20" y2="240.34" stroke="#c8c8c8" stroke-width="1"/>
<line x1="412.20" y1="226.02" x2="415.20" y2="226.02" stroke="#c8c8c8" stroke-width="1"/>
<line x1="412.20" y1="211.70" x2="415.20" y2="211.70" stroke="#999" stroke-width="1"/>
<text x="410.30" y="316.69" font-size="13.9" text-anchor="end" font-weight="normal" fill="#2b2b2b" stroke="#2b2b2b" stroke-width="0.45">-0.4</text>
<text x="410.30" y="288.05" font-size="13.9" text-anchor="end" font-weight="normal" fill="#2b2b2b" stroke="#2b2b2b" stroke-width="0.45">0.0</text>
<text x="410.30" y="259.41" font-size="13.9" text-anchor="end" font-weight="normal" fill="#2b2b2b" stroke="#2b2b2b" stroke-width="0.45">0.4</text>
<text x="410.30" y="230.77" font-size="13.9" text-anchor="end" font-weight="normal" fill="#2b2b2b" stroke="#2b2b2b" stroke-width="0.45">0.8</text>
<line x1="420.70" y1="320.00" x2="420.70" y2="323.30" stroke="#b0b0b0" stroke-width="1"/>
<text x="420.70" y="336.60" font-size="13.9" text-anchor="middle" font-weight="normal" fill="#2b2b2b" stroke="#2b2b2b" stroke-width="0.45">0</text>
<line x1="454.55" y1="320.00" x2="454.55" y2="323.30" stroke="#b0b0b0" stroke-width="1"/>
<text x="454.55" y="336.60" font-size="13.9" text-anchor="middle" font-weight="normal" fill="#2b2b2b" stroke="#2b2b2b" stroke-width="0.45">50</text>
<line x1="488.40" y1="320.00" x2="488.40" y2="323.30" stroke="#b0b0b0" stroke-width="1"/>
<text x="488.40" y="336.60" font-size="13.9" text-anchor="middle" font-weight="normal" fill="#2b2b2b" stroke="#2b2b2b" stroke-width="0.45">100</text>
<line x1="522.25" y1="320.00" x2="522.25" y2="323.30" stroke="#b0b0b0" stroke-width="1"/>
<text x="522.25" y="336.60" font-size="13.9" text-anchor="middle" font-weight="normal" fill="#2b2b2b" stroke="#2b2b2b" stroke-width="0.45">150</text>
<line x1="556.10" y1="320.00" x2="556.10" y2="323.30" stroke="#b0b0b0" stroke-width="1"/>
<text x="556.10" y="336.60" font-size="13.9" text-anchor="middle" font-weight="normal" fill="#2b2b2b" stroke="#2b2b2b" stroke-width="0.45">200</text>
<text x="362.20" y="223.00" font-size="14.1" text-anchor="middle" font-weight="normal" fill="#2b2b2b" stroke="#2b2b2b" stroke-width="0.45">c)</text>
<text x="386.40" y="265.75" font-size="14.2" text-anchor="middle" font-weight="normal" fill="#2b2b2b" stroke="#2b2b2b" stroke-width="0.45" transform="rotate(-90 386.4 265.75)">s(Acoustic Pres, 2.52)</text>
<text x="497.30" y="354.00" font-size="14.1" text-anchor="middle" font-weight="normal" fill="#2b2b2b" stroke="#2b2b2b" stroke-width="0.45">Acoustic Presence***</text>
<rect x="420.60" y="316.60" width="84.40" height="3.40" fill="#a0a0a0"/>
<path d="M436.50,316.60V320.00M438.10,316.60V320.00M439.70,316.60V320.00M441.30,316.60V320.00M442.90,316.60V320.00M444.50,316.60V320.00M446.10,316.60V320.00M447.70,316.60V320.00" stroke="#4a4a4a" stroke-width="0.8" fill="none"/>
<path d="M470.00,316.60V320.00M471.70,316.60V320.00M473.40,316.60V320.00M475.10,316.60V320.00M476.80,316.60V320.00M478.50,316.60V320.00M480.20,316.60V320.00M481.90,316.60V320.00M483.60,316.60V320.00M485.30,316.60V320.00M487.00,316.60V320.00M488.70,316.60V320.00M490.40,316.60V320.00" stroke="#666" stroke-width="0.8" fill="none"/>
<path d="M508.50,316.60V320.00M510.50,316.60V320.00M512.50,316.60V320.00M514.50,316.60V320.00M516.50,316.60V320.00M519.50,316.60V320.00" stroke="#666" stroke-width="1.0" fill="none"/>
<path d="M523.00,316.60V320.00M525.50,316.60V320.00M528.50,316.60V320.00" stroke="#bbb" stroke-width="1.0" fill="none"/>
<path d="M534.50,316.60V320.00M536.80,316.60V320.00" stroke="#555" stroke-width="1.0" fill="none"/>
<path d="M575.10,316.60V320.00" stroke="#aaa" stroke-width="0.8" fill="none"/>
<path d="M70.80,617.80 L71.04,617.97 L71.33,618.19 L71.67,618.45 L72.04,618.75 L72.45,619.07 L72.89,619.41 L73.36,619.74 L73.86,620.07 L74.39,620.38 L74.94,620.66 L75.51,620.91 L76.10,621.10 L76.72,621.25 L77.38,621.36 L78.09,621.44 L78.82,621.50 L79.58,621.54 L80.36,621.56 L81.16,621.58 L81.96,621.60 L82.76,621.63 L83.55,621.67 L84.33,621.72 L85.10,621.80 L85.87,621.89 L86.65,621.99 L87.46,622.10 L88.27,622.21 L89.08,622.33 L89.88,622.45 L90.67,622.58 L91.44,622.71 L92.19,622.85 L92.90,622.99 L93.57,623.14 L94.20,623.30 L94.78,623.45 L95.30,623.58 L95.79,623.71 L96.25,623.84 L96.68,623.97 L97.09,624.12 L97.49,624.28 L97.88,624.47 L98.27,624.69 L98.67,624.95 L99.07,625.25 L99.50,625.60 L99.93,626.01 L100.36,626.46 L100.79,626.96 L101.21,627.50 L101.63,628.07 L102.05,628.67 L102.47,629.28 L102.90,629.91 L103.34,630.54 L103.78,631.17 L104.24,631.79 L104.70,632.40 L105.18,633.00 L105.67,633.61 L106.16,634.23 L106.67,634.85 L107.18,635.48 L107.70,636.11 L108.22,636.75 L108.74,637.39 L109.26,638.04 L109.78,638.69 L110.29,639.34 L110.80,640.00 L111.30,640.67 L111.81,641.35 L112.31,642.04 L112.81,642.74 L113.31,643.45 L113.81,644.15 L114.31,644.85 L114.80,645.55 L115.30,646.23 L115.80,646.91 L116.30,647.56 L116.80,648.20 L117.30,648.83 L117.80,649.47 L118.30,650.10 L118.80,650.74 L119.29,651.36 L119.79,651.97 L120.29,652.56 L120.79,653.12 L121.29,653.65 L121.79,654.14 L122.30,654.60 L122.80,655.00 L123.30,655.36 L123.80,655.68 L124.29,655.96 L124.79,656.21 L125.28,656.43 L125.78,656.62 L126.28,656.79 L126.79,656.93 L127.30,657.05 L127.82,657.15 L128.36,657.23 L128.90,657.30 L129.46,657.35 L130.04,657.39 L130.63,657.40 L131.23,657.40 L131.84,657.37 L132.45,657.32 L133.06,657.25 L133.67,657.16 L134.27,657.03 L134.86,656.88 L135.44,656.71 L136.00,656.50 L136.54,656.25 L137.07,655.94 L137.58,655.59 L138.08,655.20 L138.58,654.79 L139.07,654.36 L139.56,653.93 L140.05,653.50 L140.55,653.08 L141.05,652.68 L141.57,652.32 L142.10,652.00 L142.64,651.70 L143.20,651.40 L143.77,651.09 L144.34,650.80 L144.92,650.52 L145.51,650.26 L146.09,650.02 L146.67,649.81 L147.24,649.64 L147.80,649.51 L148.36,649.43 L148.90,649.40 L149.43,649.43 L149.95,649.52 L150.46,649.66 L150.96,649.84 L151.46,650.05 L151.95,650.30 L152.44,650.57 L152.93,650.85 L153.42,651.14 L153.91,651.44 L154.40,651.72 L154.90,652.00 L155.40,652.26 L155.91,652.52 L156.42,652.78 L156.93,653.04 L157.44,653.31 L157.94,653.59 L158.45,653.89 L158.95,654.21 L159.45,654.56 L159.94,654.94 L160.42,655.35 L160.90,655.80 L161.37,656.29 L161.82,656.82 L162.27,657.38 L162.72,657.97 L163.16,658.58 L163.59,659.22 L164.03,659.87 L164.46,660.54 L164.89,661.23 L165.32,661.91 L165.76,662.61 L166.20,663.30 L166.64,664.02 L167.08,664.78 L167.52,665.58 L167.97,666.40 L168.41,667.23 L168.85,668.06 L169.29,668.87 L169.73,669.67 L170.17,670.43 L170.62,671.15 L171.06,671.81 L171.50,672.40 L171.94,672.94 L172.38,673.45 L172.83,673.92 L173.27,674.36 L173.71,674.77 L174.16,675.14 L174.60,675.48 L175.04,675.78 L175.48,676.04 L175.92,676.27 L176.36,676.45 L176.80,676.60 L177.24,676.71 L177.67,676.79 L178.10,676.83 L178.54,676.84 L178.97,676.81 L179.40,676.74 L179.83,676.63 L180.26,676.47 L180.70,676.28 L181.13,676.03 L181.56,675.74 L182.00,675.40 L182.44,675.00 L182.88,674.54 L183.33,674.02 L183.78,673.45 L184.23,672.83 L184.68,672.18 L185.12,671.50 L185.57,670.79 L186.01,670.05 L186.44,669.31 L186.88,668.56 L187.30,667.80 L187.71,667.05 L188.12,666.29 L188.51,665.52 L188.89,664.74 L189.27,663.94 L189.66,663.11 L190.04,662.25 L190.43,661.36 L190.83,660.42 L191.24,659.44 L191.66,658.40 L192.10,657.30 L192.56,656.14 L193.03,654.90 L193.51,653.61 L194.01,652.27 L194.51,650.89 L195.02,649.48 L195.53,648.03 L196.05,646.57 L196.56,645.10 L197.08,643.62 L197.59,642.16 L198.10,640.70 L198.61,639.22 L199.11,637.67 L199.62,636.07 L200.13,634.44 L200.64,632.81 L201.15,631.18 L201.66,629.58 L202.17,628.02 L202.68,626.53 L203.19,625.11 L203.69,623.80 L204.20,622.60 L204.70,621.50 L205.21,620.45 L205.71,619.47 L206.21,618.55 L206.71,617.69 L207.21,616.90 L207.71,616.17 L208.20,615.50 L208.70,614.90 L209.20,614.37 L209.70,613.90 L210.20,613.50 L210.70,613.19 L211.21,612.99 L211.72,612.87 L212.23,612.84 L212.74,612.87 L213.24,612.96 L213.75,613.08 L214.25,613.23 L214.75,613.39 L215.24,613.54 L215.72,613.69 L216.20,613.80 L216.67,613.91 L217.14,614.04 L217.62,614.19 L218.09,614.36 L218.55,614.54 L219.01,614.72 L219.45,614.92 L219.89,615.11 L220.32,615.30 L220.73,615.48 L221.12,615.65 L221.50,615.80 L221.87,615.95 L222.23,616.10 L222.58,616.25 L222.93,616.39 L223.26,616.54 L223.58,616.67 L223.88,616.81 L224.16,616.93 L224.41,617.04 L224.64,617.14 L224.84,617.23 L225.00,617.30 L225.00,646.50 L224.76,646.34 L224.45,646.14 L224.09,645.90 L223.69,645.63 L223.25,645.33 L222.78,645.02 L222.30,644.71 L221.81,644.41 L221.33,644.11 L220.86,643.84 L220.42,643.60 L220.00,643.40 L219.61,643.22 L219.23,643.04 L218.86,642.87 L218.49,642.70 L218.13,642.55 L217.77,642.42 L217.41,642.31 L217.04,642.22 L216.67,642.16 L216.29,642.13 L215.90,642.15 L215.50,642.20 L215.09,642.28 L214.67,642.39 L214.25,642.51 L213.82,642.66 L213.38,642.84 L212.94,643.06 L212.50,643.30 L212.05,643.59 L211.59,643.92 L211.13,644.30 L210.67,644.72 L210.20,645.20 L209.72,645.72 L209.22,646.28 L208.71,646.87 L208.19,647.50 L207.66,648.18 L207.13,648.90 L206.61,649.67 L206.09,650.49 L205.59,651.35 L205.10,652.28 L204.64,653.26 L204.20,654.30 L203.79,655.44 L203.39,656.70 L203.01,658.07 L202.64,659.50 L202.29,660.99 L201.95,662.51 L201.62,664.04 L201.29,665.54 L200.97,667.00 L200.64,668.40 L200.32,669.71 L200.00,670.90 L199.69,671.96 L199.39,672.92 L199.12,673.78 L198.85,674.57 L198.58,675.32 L198.32,676.06 L198.05,676.80 L197.76,677.56 L197.46,678.38 L197.14,679.28 L196.79,680.28 L196.40,681.40 L195.98,682.67 L195.53,684.06 L195.05,685.57 L194.55,687.15 L194.03,688.78 L193.50,690.44 L192.96,692.11 L192.42,693.74 L191.88,695.32 L191.34,696.83 L190.81,698.23 L190.30,699.50 L189.79,700.67 L189.27,701.79 L188.74,702.85 L188.21,703.86 L187.68,704.82 L187.16,705.73 L186.64,706.58 L186.13,707.39 L185.64,708.14 L185.17,708.84 L184.72,709.50 L184.30,710.10 L183.91,710.66 L183.54,711.17 L183.19,711.63 L182.87,712.04 L182.56,712.40 L182.26,712.71 L181.96,712.97 L181.68,713.17 L181.39,713.32 L181.10,713.40 L180.81,713.43 L180.50,713.40 L180.20,713.30 L179.91,713.14 L179.62,712.91 L179.35,712.61 L179.07,712.27 L178.79,711.87 L178.51,711.42 L178.21,710.93 L177.89,710.40 L177.55,709.83 L177.19,709.23 L176.80,708.60 L176.38,707.92 L175.92,707.19 L175.44,706.39 L174.94,705.55 L174.42,704.67 L173.89,703.75 L173.36,702.81 L172.81,701.85 L172.27,700.88 L171.74,699.91 L171.21,698.95 L170.70,698.00 L170.20,697.04 L169.69,696.04 L169.19,695.01 L168.69,693.97 L168.19,692.91 L167.69,691.86 L167.19,690.81 L166.70,689.78 L166.20,688.77 L165.70,687.80 L165.20,686.87 L164.70,686.00 L164.20,685.16 L163.70,684.33 L163.20,683.52 L162.70,682.73 L162.21,681.96 L161.71,681.23 L161.21,680.52 L160.71,679.86 L160.21,679.25 L159.71,678.68 L159.20,678.16 L158.70,677.70 L158.20,677.28 L157.72,676.89 L157.25,676.54 L156.78,676.22 L156.31,675.95 L155.84,675.73 L155.35,675.56 L154.85,675.44 L154.33,675.40 L153.79,675.42 L153.21,675.52 L152.60,675.70 L151.95,675.98 L151.25,676.36 L150.52,676.83 L149.76,677.38 L148.98,678.00 L148.19,678.66 L147.40,679.37 L146.60,680.10 L145.82,680.84 L145.05,681.58 L144.31,682.30 L143.60,683.00 L142.91,683.71 L142.23,684.46 L141.56,685.25 L140.90,686.07 L140.25,686.89 L139.61,687.72 L138.98,688.53 L138.36,689.32 L137.75,690.08 L137.16,690.78 L136.57,691.43 L136.00,692.00 L135.44,692.52 L134.89,693.01 L134.35,693.48 L133.81,693.91 L133.30,694.30 L132.79,694.66 L132.29,694.97 L131.81,695.24 L131.34,695.46 L130.88,695.63 L130.43,695.74 L130.00,695.80 L129.59,695.80 L129.20,695.74 L128.83,695.63 L128.48,695.47 L128.14,695.26 L127.81,695.01 L127.48,694.71 L127.16,694.37 L126.83,694.00 L126.50,693.60 L126.15,693.16 L125.80,692.70 L125.44,692.21 L125.08,691.68 L124.73,691.11 L124.38,690.51 L124.02,689.87 L123.66,689.20 L123.30,688.49 L122.92,687.74 L122.54,686.96 L122.14,686.14 L121.73,685.29 L121.30,684.40 L120.85,683.46 L120.39,682.44 L119.91,681.38 L119.41,680.26 L118.91,679.11 L118.39,677.94 L117.88,676.75 L117.36,675.55 L116.84,674.35 L116.32,673.18 L115.80,672.02 L115.30,670.90 L114.80,669.78 L114.30,668.64 L113.80,667.47 L113.30,666.30 L112.81,665.13 L112.31,663.98 L111.81,662.86 L111.31,661.77 L110.81,660.73 L110.31,659.74 L109.80,658.83 L109.30,658.00 L108.79,657.25 L108.29,656.57 L107.78,655.94 L107.27,655.38 L106.76,654.86 L106.25,654.38 L105.74,653.94 L105.23,653.52 L104.72,653.13 L104.21,652.75 L103.71,652.37 L103.20,652.00 L102.70,651.64 L102.19,651.32 L101.69,651.03 L101.19,650.76 L100.69,650.52 L100.19,650.29 L99.69,650.07 L99.20,649.86 L98.70,649.65 L98.20,649.44 L97.70,649.23 L97.20,649.00 L96.71,648.76 L96.24,648.50 L95.77,648.24 L95.31,647.97 L94.86,647.70 L94.39,647.44 L93.92,647.20 L93.43,646.98 L92.92,646.78 L92.38,646.61 L91.81,646.49 L91.20,646.40 L90.54,646.37 L89.83,646.39 L89.07,646.46 L88.28,646.56 L87.47,646.69 L86.65,646.84 L85.83,646.99 L85.02,647.14 L84.23,647.27 L83.47,647.38 L82.76,647.46 L82.10,647.50 L81.49,647.50 L80.91,647.47 L80.37,647.42 L79.84,647.36 L79.34,647.28 L78.86,647.19 L78.39,647.09 L77.93,647.00 L77.48,646.91 L77.02,646.83 L76.57,646.76 L76.10,646.70 L75.62,646.66 L75.11,646.62 L74.60,646.58 L74.09,646.55 L73.57,646.52 L73.07,646.50 L72.60,646.48 L72.15,646.46 L71.74,646.44 L71.37,646.43 L71.05,646.41 L70.80,646.40 Z" fill="#cecece"/>
<path d="M70.80,632.40 L71.19,632.49 L71.68,632.61 L72.24,632.76 L72.87,632.93 L73.56,633.10 L74.29,633.29 L75.07,633.47 L75.86,633.65 L76.68,633.82 L77.49,633.97 L78.30,634.10 L79.10,634.20 L79.91,634.27 L80.77,634.31 L81.66,634.33 L82.57,634.34 L83.51,634.33 L84.44,634.32 L85.38,634.31 L86.29,634.30 L87.18,634.30 L88.04,634.31 L88.85,634.34 L89.60,634.40 L90.30,634.47 L90.96,634.54 L91.60,634.62 L92.20,634.71 L92.77,634.80 L93.32,634.91 L93.86,635.02 L94.38,635.16 L94.89,635.31 L95.40,635.48 L95.90,635.68 L96.40,635.90 L96.89,636.14 L97.36,636.39 L97.81,636.65 L98.25,636.92 L98.68,637.22 L99.10,637.53 L99.52,637.87 L99.94,638.23 L100.36,638.63 L100.79,639.05 L101.24,639.51 L101.70,640.00 L102.17,640.53 L102.64,641.09 L103.11,641.69 L103.59,642.31 L104.07,642.96 L104.56,643.64 L105.05,644.35 L105.56,645.08 L106.07,645.83 L106.60,646.60 L107.14,647.39 L107.70,648.20 L108.28,649.04 L108.89,649.93 L109.53,650.86 L110.17,651.82 L110.83,652.80 L111.50,653.80 L112.17,654.80 L112.83,655.80 L113.48,656.79 L114.11,657.76 L114.72,658.70 L115.30,659.60 L115.86,660.48 L116.39,661.37 L116.91,662.24 L117.41,663.11 L117.91,663.97 L118.39,664.82 L118.87,665.65 L119.35,666.45 L119.83,667.23 L120.31,667.99 L120.80,668.71 L121.30,669.40 L121.81,670.07 L122.35,670.72 L122.89,671.36 L123.44,671.98 L123.99,672.57 L124.54,673.14 L125.07,673.67 L125.59,674.17 L126.09,674.62 L126.56,675.03 L127.00,675.39 L127.40,675.70 L127.75,675.95 L128.05,676.15 L128.31,676.29 L128.53,676.40 L128.74,676.46 L128.93,676.48 L129.12,676.47 L129.32,676.44 L129.54,676.38 L129.79,676.30 L130.07,676.20 L130.40,676.10 L130.77,675.98 L131.18,675.82 L131.61,675.64 L132.06,675.44 L132.52,675.21 L133.01,674.96 L133.50,674.69 L134.00,674.40 L134.50,674.09 L135.01,673.77 L135.51,673.44 L136.00,673.10 L136.48,672.74 L136.95,672.34 L137.42,671.93 L137.89,671.49 L138.36,671.03 L138.84,670.56 L139.33,670.09 L139.83,669.61 L140.36,669.14 L140.91,668.68 L141.49,668.23 L142.10,667.80 L142.76,667.36 L143.47,666.89 L144.23,666.41 L145.02,665.92 L145.83,665.43 L146.65,664.96 L147.47,664.51 L148.27,664.09 L149.04,663.72 L149.78,663.41 L150.47,663.17 L151.10,663.00 L151.67,662.90 L152.19,662.85 L152.67,662.85 L153.11,662.90 L153.54,662.99 L153.94,663.12 L154.33,663.30 L154.72,663.53 L155.11,663.79 L155.52,664.09 L155.95,664.43 L156.40,664.80 L156.87,665.22 L157.35,665.68 L157.83,666.19 L158.32,666.74 L158.81,667.33 L159.31,667.96 L159.81,668.63 L160.31,669.33 L160.83,670.05 L161.35,670.81 L161.87,671.59 L162.40,672.40 L162.94,673.26 L163.50,674.19 L164.06,675.18 L164.63,676.21 L165.21,677.28 L165.79,678.36 L166.38,679.44 L166.96,680.51 L167.53,681.56 L168.10,682.56 L168.66,683.52 L169.20,684.40 L169.74,685.24 L170.28,686.07 L170.81,686.88 L171.34,687.66 L171.87,688.42 L172.39,689.16 L172.91,689.85 L173.41,690.51 L173.90,691.13 L174.38,691.71 L174.85,692.23 L175.30,692.70 L175.73,693.12 L176.14,693.49 L176.54,693.82 L176.92,694.11 L177.29,694.35 L177.65,694.56 L178.01,694.72 L178.36,694.85 L178.71,694.94 L179.07,694.99 L179.43,695.01 L179.80,695.00 L180.17,694.97 L180.54,694.92 L180.91,694.85 L181.27,694.76 L181.63,694.62 L182.00,694.44 L182.37,694.21 L182.74,693.92 L183.12,693.56 L183.50,693.13 L183.90,692.61 L184.30,692.00 L184.71,691.29 L185.13,690.48 L185.55,689.57 L185.98,688.59 L186.42,687.54 L186.86,686.44 L187.30,685.28 L187.75,684.10 L188.21,682.88 L188.67,681.66 L189.13,680.42 L189.60,679.20 L190.08,677.96 L190.57,676.69 L191.06,675.38 L191.57,674.04 L192.08,672.68 L192.59,671.30 L193.10,669.90 L193.61,668.49 L194.12,667.07 L194.62,665.64 L195.12,664.22 L195.60,662.80 L196.07,661.36 L196.54,659.88 L197.00,658.37 L197.45,656.84 L197.90,655.31 L198.34,653.77 L198.79,652.25 L199.24,650.76 L199.69,649.29 L200.15,647.87 L200.62,646.50 L201.10,645.20 L201.59,643.94 L202.10,642.69 L202.62,641.46 L203.15,640.26 L203.68,639.09 L204.21,637.96 L204.74,636.87 L205.26,635.84 L205.77,634.88 L206.27,633.97 L206.75,633.15 L207.20,632.40 L207.63,631.74 L208.05,631.18 L208.45,630.69 L208.84,630.27 L209.22,629.91 L209.59,629.61 L209.96,629.34 L210.31,629.11 L210.66,628.90 L211.01,628.70 L211.35,628.50 L211.70,628.30 L212.04,628.10 L212.37,627.93 L212.68,627.78 L212.99,627.66 L213.30,627.55 L213.60,627.47 L213.90,627.41 L214.21,627.37 L214.52,627.35 L214.83,627.35 L215.16,627.36 L215.50,627.40 L215.85,627.46 L216.20,627.55 L216.56,627.67 L216.93,627.81 L217.30,627.98 L217.68,628.16 L218.05,628.35 L218.44,628.55 L218.82,628.76 L219.21,628.98 L219.61,629.19 L220.00,629.40 L220.42,629.62 L220.86,629.88 L221.33,630.15 L221.81,630.44 L222.30,630.73 L222.78,631.02 L223.25,631.31 L223.69,631.59 L224.09,631.84 L224.45,632.06 L224.76,632.25 L225.00,632.40" fill="none" stroke="#5a5a5a" stroke-width="1.0"/>
<line x1="64.30" y1="608.80" x2="231.10" y2="608.80" stroke="#ececec" stroke-width="1.1"/>
<line x1="231.10" y1="608.80" x2="231.10" y2="719.10" stroke="#c0c0c0" stroke-width="1.1"/>
<line x1="64.30" y1="719.10" x2="231.10" y2="719.10" stroke="#a8a8a8" stroke-width="1.1"/>
<line x1="64.30" y1="608.80" x2="64.30" y2="719.10" stroke="#8c8c8c" stroke-width="1.1"/>
<line x1="61.80" y1="702.90" x2="64.30" y2="702.90" stroke="#777" stroke-width="1"/>
<line x1="61.80" y1="677.50" x2="64.30" y2="677.50" stroke="#777" stroke-width="1"/>
<line x1="61.80" y1="652.10" x2="64.30" y2="652.10" stroke="#777" stroke-width="1"/>
<line x1="61.80" y1="626.70" x2="64.30" y2="626.70" stroke="#777" stroke-width="1"/>
<text x="60.80" y="707.65" font-size="13.9" text-anchor="end" font-weight="normal" fill="#2b2b2b" stroke="#2b2b2b" stroke-width="0.45">-0.4</text>
<text x="60.80" y="682.25" font-size="13.9" text-anchor="end" font-weight="normal" fill="#2b2b2b" stroke="#2b2b2b" stroke-width="0.45">-0.2</text>
<text x="60.80" y="656.85" font-size="13.9" text-anchor="end" font-weight="normal" fill="#2b2b2b" stroke="#2b2b2b" stroke-width="0.45">0.0</text>
<text x="60.80" y="631.45" font-size="13.9" text-anchor="end" font-weight="normal" fill="#2b2b2b" stroke="#2b2b2b" stroke-width="0.45">0.2</text>
<line x1="70.30" y1="719.10" x2="70.30" y2="722.60" stroke="#999" stroke-width="1"/>
<line x1="91.67" y1="719.10" x2="91.67" y2="722.60" stroke="#999" stroke-width="1"/>
<line x1="113.05" y1="719.10" x2="113.05" y2="722.60" stroke="#999" stroke-width="1"/>
<line x1="134.43" y1="719.10" x2="134.43" y2="722.60" stroke="#999" stroke-width="1"/>
<line x1="155.80" y1="719.10" x2="155.80" y2="722.60" stroke="#999" stroke-width="1"/>
<line x1="177.18" y1="719.10" x2="177.18" y2="722.60" stroke="#999" stroke-width="1"/>
<line x1="198.55" y1="719.10" x2="198.55" y2="722.60" stroke="#999" stroke-width="1"/>
<line x1="219.93" y1="719.10" x2="219.93" y2="722.60" stroke="#999" stroke-width="1"/>
<text x="70.30" y="735.30" font-size="13.9" text-anchor="middle" font-weight="normal" fill="#2b2b2b" stroke="#2b2b2b" stroke-width="0.45">0</text>
<text x="113.05" y="735.30" font-size="13.9" text-anchor="middle" font-weight="normal" fill="#2b2b2b" stroke="#2b2b2b" stroke-width="0.45">100</text>
<text x="155.80" y="735.30" font-size="13.9" text-anchor="middle" font-weight="normal" fill="#2b2b2b" stroke="#2b2b2b" stroke-width="0.45">200</text>
<text x="198.55" y="735.30" font-size="13.9" text-anchor="middle" font-weight="normal" fill="#2b2b2b" stroke="#2b2b2b" stroke-width="0.45">300</text>
<text x="6.80" y="615.80" font-size="14.1" text-anchor="middle" font-weight="normal" fill="#2b2b2b" stroke="#2b2b2b" stroke-width="0.45">e)</text>
<text x="31.30" y="664.80" font-size="14.3" text-anchor="middle" font-weight="normal" fill="#2b2b2b" stroke="#2b2b2b" stroke-width="0.45" transform="rotate(-90 31.3 664.8)">s(Julian Day, 5.32)</text>
<text x="154.40" y="751.50" font-size="14.1" text-anchor="middle" font-weight="normal" fill="#2b2b2b" stroke="#2b2b2b" stroke-width="0.45">Julian Day***</text>
<path d="M71.60,715.30V718.80M73.05,715.30V718.80M74.50,715.30V718.80M75.95,715.30V718.80M77.40,715.30V718.80M78.85,715.30V718.80M80.30,715.30V718.80M81.75,715.30V718.80M83.20,715.30V718.80M84.65,715.30V718.80M86.10,715.30V718.80M87.55,715.30V718.80M89.00,715.30V718.80M90.45,715.30V718.80M91.90,715.30V718.80M93.35,715.30V718.80M94.80,715.30V718.80M96.25,715.30V718.80M97.70,715.30V718.80M99.15,715.30V718.80M100.60,715.30V718.80M102.05,715.30V718.80M103.50,715.30V718.80M104.95,715.30V718.80M106.40,715.30V718.80M107.85,715.30V718.80M109.30,715.30V718.80M110.75,715.30V718.80M112.20,715.30V718.80M113.65,715.30V718.80" stroke="#444" stroke-width="0.95" fill="none"/>
<path d="M118.60,715.30V718.80M121.00,715.30V718.80M123.50,715.30V718.80M126.00,715.30V718.80" stroke="#999" stroke-width="1.0" fill="none"/>
<path d="M129.80,715.30V718.80" stroke="#444" stroke-width="1.0" fill="none"/>
<path d="M140.10,715.30V718.80M141.55,715.30V718.80M143.00,715.30V718.80M144.45,715.30V718.80M145.90,715.30V718.80M147.35,715.30V718.80M148.80,715.30V718.80M150.25,715.30V718.80M151.70,715.30V718.80M153.15,715.30V718.80M154.60,715.30V718.80M156.05,715.30V718.80M157.50,715.30V718.80M158.95,715.30V718.80M160.40,715.30V718.80M161.85,715.30V718.80M163.30,715.30V718.80M164.75,715.30V718.80M166.20,715.30V718.80M167.65,715.30V718.80M169.10,715.30V718.80" stroke="#444" stroke-width="0.95" fill="none"/>
<path d="M174.00,715.30V718.80M176.00,715.30V718.80M183.10,715.30V718.80M187.70,715.30V718.80M191.60,715.30V718.80" stroke="#333" stroke-width="1.1" fill="none"/>
<rect x="196.20" y="715.30" width="7.30" height="3.50" fill="#999"/>
<rect x="209.40" y="715.30" width="3.90" height="3.50" fill="#555"/>
<path d="M216.60,715.30V718.80M220.60,715.30V718.80M223.20,715.30V718.80" stroke="#333" stroke-width="1.1" fill="none"/>
<rect x="288.90" y="609.20" width="84.00" height="110.70" fill="#dedcf0"/>
<defs><clipPath id="fl"><rect x="280" y="600" width="92.90" height="130"/></clipPath><clipPath id="fr"><rect x="372.90" y="600" width="100" height="130"/></clipPath></defs>
<path d="M295.20,650.40 L295.53,650.58 L295.92,650.80 L296.37,651.06 L296.87,651.36 L297.43,651.68 L298.02,652.02 L298.67,652.37 L299.35,652.73 L300.07,653.09 L300.82,653.44 L301.60,653.78 L302.40,654.10 L303.25,654.41 L304.17,654.74 L305.13,655.06 L306.15,655.39 L307.20,655.72 L308.27,656.05 L309.37,656.37 L310.47,656.69 L311.58,656.99 L312.67,657.28 L313.75,657.55 L314.80,657.80 L315.83,658.04 L316.87,658.26 L317.90,658.47 L318.93,658.67 L319.97,658.85 L321.00,659.03 L322.03,659.20 L323.07,659.36 L324.10,659.50 L325.13,659.64 L326.17,659.78 L327.20,659.90 L328.24,660.02 L329.29,660.14 L330.36,660.25 L331.42,660.36 L332.49,660.45 L333.55,660.54 L334.60,660.61 L335.64,660.67 L336.67,660.71 L337.67,660.73 L338.65,660.73 L339.60,660.70 L340.53,660.65 L341.44,660.58 L342.33,660.50 L343.21,660.39 L344.07,660.27 L344.91,660.13 L345.74,659.98 L346.55,659.81 L347.34,659.62 L348.11,659.43 L348.87,659.22 L349.60,659.00 L350.31,658.77 L350.98,658.53 L351.63,658.29 L352.26,658.03 L352.87,657.76 L353.46,657.47 L354.05,657.16 L354.63,656.84 L355.21,656.49 L355.80,656.12 L356.39,655.72 L357.00,655.30 L357.61,654.85 L358.23,654.36 L358.83,653.85 L359.44,653.31 L360.05,652.75 L360.66,652.17 L361.27,651.58 L361.88,650.97 L362.50,650.36 L363.13,649.74 L363.76,649.12 L364.40,648.50 L365.06,647.86 L365.75,647.19 L366.45,646.50 L367.17,645.79 L367.89,645.07 L368.61,644.35 L369.32,643.64 L370.01,642.94 L370.68,642.28 L371.33,641.64 L371.93,641.04 L372.50,640.50 L373.01,640.01 L373.47,639.57 L373.89,639.18 L374.27,638.81 L374.64,638.47 L374.99,638.15 L375.34,637.84 L375.69,637.52 L376.07,637.20 L376.47,636.86 L376.91,636.50 L377.40,636.10 L377.93,635.67 L378.47,635.21 L379.04,634.74 L379.62,634.25 L380.22,633.76 L380.84,633.26 L381.47,632.76 L382.13,632.27 L382.80,631.79 L383.48,631.34 L384.18,630.90 L384.90,630.50 L385.64,630.12 L386.41,629.74 L387.21,629.37 L388.02,629.01 L388.85,628.67 L389.70,628.34 L390.55,628.03 L391.41,627.73 L392.27,627.46 L393.12,627.22 L393.97,626.99 L394.80,626.80 L395.62,626.63 L396.45,626.49 L397.27,626.38 L398.10,626.28 L398.92,626.21 L399.74,626.16 L400.57,626.12 L401.39,626.11 L402.22,626.11 L403.04,626.13 L403.87,626.16 L404.70,626.20 L405.53,626.26 L406.36,626.32 L407.20,626.41 L408.03,626.50 L408.86,626.62 L409.70,626.75 L410.54,626.90 L411.37,627.07 L412.20,627.27 L413.04,627.49 L413.87,627.73 L414.70,628.00 L415.53,628.30 L416.36,628.63 L417.18,628.98 L418.01,629.36 L418.83,629.77 L419.66,630.19 L420.48,630.63 L421.30,631.08 L422.13,631.55 L422.95,632.03 L423.78,632.51 L424.60,633.00 L425.43,633.50 L426.25,634.03 L427.08,634.57 L427.90,635.13 L428.73,635.71 L429.55,636.29 L430.38,636.88 L431.20,637.47 L432.03,638.06 L432.85,638.65 L433.68,639.23 L434.50,639.80 L435.34,640.38 L436.21,640.98 L437.09,641.59 L437.98,642.20 L438.87,642.82 L439.76,643.43 L440.62,644.03 L441.46,644.61 L442.27,645.16 L443.03,645.68 L443.75,646.16 L444.40,646.60 L445.00,647.00 L445.57,647.37 L446.11,647.71 L446.61,648.02 L447.08,648.31 L447.52,648.58 L447.92,648.82 L448.29,649.03 L448.62,649.23 L448.91,649.41 L449.17,649.56 L449.40,649.70 L449.40,670.20 L449.17,670.09 L448.91,669.96 L448.62,669.82 L448.29,669.67 L447.92,669.49 L447.52,669.30 L447.08,669.09 L446.61,668.86 L446.11,668.60 L445.57,668.32 L445.00,668.02 L444.40,667.70 L443.75,667.35 L443.03,666.97 L442.27,666.56 L441.46,666.13 L440.62,665.68 L439.76,665.21 L438.87,664.72 L437.98,664.21 L437.09,663.70 L436.21,663.17 L435.34,662.64 L434.50,662.10 L433.68,661.55 L432.87,660.97 L432.06,660.38 L431.25,659.77 L430.44,659.14 L429.63,658.51 L428.82,657.87 L428.00,657.23 L427.17,656.59 L426.33,655.95 L425.47,655.32 L424.60,654.70 L423.71,654.07 L422.79,653.41 L421.86,652.74 L420.91,652.06 L419.96,651.38 L419.00,650.71 L418.04,650.06 L417.09,649.43 L416.14,648.83 L415.21,648.27 L414.29,647.76 L413.40,647.30 L412.53,646.90 L411.66,646.53 L410.81,646.20 L409.96,645.91 L409.12,645.65 L408.29,645.42 L407.47,645.21 L406.66,645.03 L405.86,644.87 L405.07,644.73 L404.28,644.61 L403.50,644.50 L402.74,644.41 L401.99,644.33 L401.27,644.28 L400.56,644.24 L399.85,644.23 L399.15,644.24 L398.45,644.28 L397.74,644.33 L397.03,644.41 L396.31,644.52 L395.56,644.65 L394.80,644.80 L394.01,644.98 L393.19,645.19 L392.35,645.43 L391.50,645.69 L390.64,645.97 L389.77,646.28 L388.92,646.61 L388.07,646.96 L387.23,647.32 L386.42,647.70 L385.64,648.09 L384.90,648.50 L384.18,648.93 L383.49,649.38 L382.81,649.86 L382.15,650.36 L381.50,650.88 L380.87,651.41 L380.26,651.95 L379.66,652.50 L379.08,653.05 L378.51,653.60 L377.95,654.15 L377.40,654.70 L376.88,655.24 L376.39,655.78 L375.93,656.31 L375.49,656.85 L375.07,657.39 L374.65,657.94 L374.23,658.50 L373.81,659.07 L373.37,659.65 L372.91,660.25 L372.42,660.86 L371.90,661.50 L371.34,662.16 L370.76,662.86 L370.16,663.59 L369.54,664.33 L368.91,665.09 L368.27,665.85 L367.62,666.61 L366.97,667.37 L366.31,668.11 L365.67,668.84 L365.03,669.54 L364.40,670.20 L363.78,670.84 L363.16,671.48 L362.54,672.10 L361.93,672.72 L361.31,673.32 L360.69,673.91 L360.08,674.48 L359.46,675.03 L358.85,675.56 L358.23,676.06 L357.62,676.54 L357.00,677.00 L356.39,677.43 L355.80,677.84 L355.21,678.23 L354.63,678.60 L354.05,678.94 L353.46,679.27 L352.87,679.57 L352.26,679.86 L351.63,680.12 L350.98,680.37 L350.31,680.59 L349.60,680.80 L348.87,680.98 L348.11,681.14 L347.34,681.27 L346.55,681.38 L345.74,681.47 L344.91,681.54 L344.07,681.60 L343.21,681.64 L342.33,681.67 L341.44,681.69 L340.53,681.70 L339.60,681.70 L338.65,681.70 L337.67,681.68 L336.67,681.65 L335.64,681.61 L334.60,681.56 L333.55,681.50 L332.49,681.42 L331.42,681.33 L330.36,681.22 L329.29,681.10 L328.24,680.96 L327.20,680.80 L326.17,680.62 L325.13,680.43 L324.10,680.21 L323.07,679.98 L322.03,679.73 L321.00,679.47 L319.97,679.20 L318.93,678.91 L317.90,678.62 L316.87,678.32 L315.83,678.01 L314.80,677.70 L313.75,677.37 L312.67,677.03 L311.58,676.66 L310.47,676.28 L309.37,675.89 L308.27,675.50 L307.20,675.11 L306.15,674.72 L305.13,674.34 L304.17,673.97 L303.25,673.63 L302.40,673.30 L301.60,672.99 L300.82,672.67 L300.07,672.36 L299.35,672.06 L298.67,671.76 L298.02,671.48 L297.43,671.21 L296.87,670.96 L296.37,670.73 L295.92,670.52 L295.53,670.35 L295.20,670.20 Z" fill="#b9b7cb" clip-path="url(#fl)"/>
<path d="M295.20,650.40 L295.53,650.58 L295.92,650.80 L296.37,651.06 L296.87,651.36 L297.43,651.68 L298.02,652.02 L298.67,652.37 L299.35,652.73 L300.07,653.09 L300.82,653.44 L301.60,653.78 L302.40,654.10 L303.25,654.41 L304.17,654.74 L305.13,655.06 L306.15,655.39 L307.20,655.72 L308.27,656.05 L309.37,656.37 L310.47,656.69 L311.58,656.99 L312.67,657.28 L313.75,657.55 L314.80,657.80 L315.83,658.04 L316.87,658.26 L317.90,658.47 L318.93,658.67 L319.97,658.85 L321.00,659.03 L322.03,659.20 L323.07,659.36 L324.10,659.50 L325.13,659.64 L326.17,659.78 L327.20,659.90 L328.24,660.02 L329.29,660.14 L330.36,660.25 L331.42,660.36 L332.49,660.45 L333.55,660.54 L334.60,660.61 L335.64,660.67 L336.67,660.71 L337.67,660.73 L338.65,660.73 L339.60,660.70 L340.53,660.65 L341.44,660.58 L342.33,660.50 L343.21,660.39 L344.07,660.27 L344.91,660.13 L345.74,659.98 L346.55,659.81 L347.34,659.62 L348.11,659.43 L348.87,659.22 L349.60,659.00 L350.31,658.77 L350.98,658.53 L351.63,658.29 L352.26,658.03 L352.87,657.76 L353.46,657.47 L354.05,657.16 L354.63,656.84 L355.21,656.49 L355.80,656.12 L356.39,655.72 L357.00,655.30 L357.61,654.85 L358.23,654.36 L358.83,653.85 L359.44,653.31 L360.05,652.75 L360.66,652.17 L361.27,651.58 L361.88,650.97 L362.50,650.36 L363.13,649.74 L363.76,649.12 L364.40,648.50 L365.06,647.86 L365.75,647.19 L366.45,646.50 L367.17,645.79 L367.89,645.07 L368.61,644.35 L369.32,643.64 L370.01,642.94 L370.68,642.28 L371.33,641.64 L371.93,641.04 L372.50,640.50 L373.01,640.01 L373.47,639.57 L373.89,639.18 L374.27,638.81 L374.64,638.47 L374.99,638.15 L375.34,637.84 L375.69,637.52 L376.07,637.20 L376.47,636.86 L376.91,636.50 L377.40,636.10 L377.93,635.67 L378.47,635.21 L379.04,634.74 L379.62,634.25 L380.22,633.76 L380.84,633.26 L381.47,632.76 L382.13,632.27 L382.80,631.79 L383.48,631.34 L384.18,630.90 L384.90,630.50 L385.64,630.12 L386.41,629.74 L387.21,629.37 L388.02,629.01 L388.85,628.67 L389.70,628.34 L390.55,628.03 L391.41,627.73 L392.27,627.46 L393.12,627.22 L393.97,626.99 L394.80,626.80 L395.62,626.63 L396.45,626.49 L397.27,626.38 L398.10,626.28 L398.92,626.21 L399.74,626.16 L400.57,626.12 L401.39,626.11 L402.22,626.11 L403.04,626.13 L403.87,626.16 L404.70,626.20 L405.53,626.26 L406.36,626.32 L407.20,626.41 L408.03,626.50 L408.86,626.62 L409.70,626.75 L410.54,626.90 L411.37,627.07 L412.20,627.27 L413.04,627.49 L413.87,627.73 L414.70,628.00 L415.53,628.30 L416.36,628.63 L417.18,628.98 L418.01,629.36 L418.83,629.77 L419.66,630.19 L420.48,630.63 L421.30,631.08 L422.13,631.55 L422.95,632.03 L423.78,632.51 L424.60,633.00 L425.43,633.50 L426.25,634.03 L427.08,634.57 L427.90,635.13 L428.73,635.71 L429.55,636.29 L430.38,636.88 L431.20,637.47 L432.03,638.06 L432.85,638.65 L433.68,639.23 L434.50,639.80 L435.34,640.38 L436.21,640.98 L437.09,641.59 L437.98,642.20 L438.87,642.82 L439.76,643.43 L440.62,644.03 L441.46,644.61 L442.27,645.16 L443.03,645.68 L443.75,646.16 L444.40,646.60 L445.00,647.00 L445.57,647.37 L446.11,647.71 L446.61,648.02 L447.08,648.31 L447.52,648.58 L447.92,648.82 L448.29,649.03 L448.62,649.23 L448.91,649.41 L449.17,649.56 L449.40,649.70 L449.40,670.20 L449.17,670.09 L448.91,669.96 L448.62,669.82 L448.29,669.67 L447.92,669.49 L447.52,669.30 L447.08,669.09 L446.61,668.86 L446.11,668.60 L445.57,668.32 L445.00,668.02 L444.40,667.70 L443.75,667.35 L443.03,666.97 L442.27,666.56 L441.46,666.13 L440.62,665.68 L439.76,665.21 L438.87,664.72 L437.98,664.21 L437.09,663.70 L436.21,663.17 L435.34,662.64 L434.50,662.10 L433.68,661.55 L432.87,660.97 L432.06,660.38 L431.25,659.77 L430.44,659.14 L429.63,658.51 L428.82,657.87 L428.00,657.23 L427.17,656.59 L426.33,655.95 L425.47,655.32 L424.60,654.70 L423.71,654.07 L422.79,653.41 L421.86,652.74 L420.91,652.06 L419.96,651.38 L419.00,650.71 L418.04,650.06 L417.09,649.43 L416.14,648.83 L415.21,648.27 L414.29,647.76 L413.40,647.30 L412.53,646.90 L411.66,646.53 L410.81,646.20 L409.96,645.91 L409.12,645.65 L408.29,645.42 L407.47,645.21 L406.66,645.03 L405.86,644.87 L405.07,644.73 L404.28,644.61 L403.50,644.50 L402.74,644.41 L401.99,644.33 L401.27,644.28 L400.56,644.24 L399.85,644.23 L399.15,644.24 L398.45,644.28 L397.74,644.33 L397.03,644.41 L396.31,644.52 L395.56,644.65 L394.80,644.80 L394.01,644.98 L393.19,645.19 L392.35,645.43 L391.50,645.69 L390.64,645.97 L389.77,646.28 L388.92,646.61 L388.07,646.96 L387.23,647.32 L386.42,647.70 L385.64,648.09 L384.90,648.50 L384.18,648.93 L383.49,649.38 L382.81,649.86 L382.15,650.36 L381.50,650.88 L380.87,651.41 L380.26,651.95 L379.66,652.50 L379.08,653.05 L378.51,653.60 L377.95,654.15 L377.40,654.70 L376.88,655.24 L376.39,655.78 L375.93,656.31 L375.49,656.85 L375.07,657.39 L374.65,657.94 L374.23,658.50 L373.81,659.07 L373.37,659.65 L372.91,660.25 L372.42,660.86 L371.90,661.50 L371.34,662.16 L370.76,662.86 L370.16,663.59 L369.54,664.33 L368.91,665.09 L368.27,665.85 L367.62,666.61 L366.97,667.37 L366.31,668.11 L365.67,668.84 L365.03,669.54 L364.40,670.20 L363.78,670.84 L363.16,671.48 L362.54,672.10 L361.93,672.72 L361.31,673.32 L360.69,673.91 L360.08,674.48 L359.46,675.03 L358.85,675.56 L358.23,676.06 L357.62,676.54 L357.00,677.00 L356.39,677.43 L355.80,677.84 L355.21,678.23 L354.63,678.60 L354.05,678.94 L353.46,679.27 L352.87,679.57 L352.26,679.86 L351.63,680.12 L350.98,680.37 L350.31,680.59 L349.60,680.80 L348.87,680.98 L348.11,681.14 L347.34,681.27 L346.55,681.38 L345.74,681.47 L344.91,681.54 L344.07,681.60 L343.21,681.64 L342.33,681.67 L341.44,681.69 L340.53,681.70 L339.60,681.70 L338.65,681.70 L337.67,681.68 L336.67,681.65 L335.64,681.61 L334.60,681.56 L333.55,681.50 L332.49,681.42 L331.42,681.33 L330.36,681.22 L329.29,681.10 L328.24,680.96 L327.20,680.80 L326.17,680.62 L325.13,680.43 L324.10,680.21 L323.07,679.98 L322.03,679.73 L321.00,679.47 L319.97,679.20 L318.93,678.91 L317.90,678.62 L316.87,678.32 L315.83,678.01 L314.80,677.70 L313.75,677.37 L312.67,677.03 L311.58,676.66 L310.47,676.28 L309.37,675.89 L308.27,675.50 L307.20,675.11 L306.15,674.72 L305.13,674.34 L304.17,673.97 L303.25,673.63 L302.40,673.30 L301.60,672.99 L300.82,672.67 L300.07,672.36 L299.35,672.06 L298.67,671.76 L298.02,671.48 L297.43,671.21 L296.87,670.96 L296.37,670.73 L295.92,670.52 L295.53,670.35 L295.20,670.20 Z" fill="#cecece" clip-path="url(#fr)"/>
<path d="M295.20,660.30 L295.53,660.45 L295.92,660.62 L296.37,660.83 L296.87,661.06 L297.43,661.31 L298.02,661.58 L298.67,661.87 L299.35,662.16 L300.07,662.47 L300.82,662.78 L301.60,663.09 L302.40,663.40 L303.25,663.72 L304.17,664.06 L305.13,664.42 L306.15,664.80 L307.20,665.18 L308.27,665.56 L309.37,665.95 L310.47,666.33 L311.58,666.70 L312.67,667.05 L313.75,667.39 L314.80,667.70 L315.83,668.00 L316.87,668.28 L317.90,668.56 L318.93,668.82 L319.97,669.08 L321.00,669.33 L322.03,669.56 L323.07,669.79 L324.10,670.01 L325.13,670.21 L326.17,670.41 L327.20,670.60 L328.24,670.78 L329.29,670.97 L330.36,671.15 L331.42,671.33 L332.49,671.50 L333.55,671.65 L334.60,671.79 L335.64,671.90 L336.67,672.00 L337.67,672.06 L338.65,672.10 L339.60,672.10 L340.53,672.07 L341.44,672.02 L342.33,671.94 L343.21,671.83 L344.07,671.71 L344.91,671.56 L345.74,671.38 L346.55,671.19 L347.34,670.97 L348.11,670.74 L348.87,670.48 L349.60,670.20 L350.31,669.90 L350.98,669.57 L351.63,669.22 L352.26,668.85 L352.87,668.46 L353.46,668.04 L354.05,667.61 L354.63,667.16 L355.21,666.69 L355.80,666.21 L356.39,665.71 L357.00,665.20 L357.62,664.67 L358.23,664.11 L358.85,663.52 L359.46,662.91 L360.08,662.29 L360.69,661.65 L361.31,661.00 L361.93,660.36 L362.54,659.71 L363.16,659.06 L363.78,658.42 L364.40,657.80 L365.03,657.18 L365.67,656.54 L366.31,655.89 L366.97,655.24 L367.62,654.60 L368.27,653.95 L368.91,653.31 L369.54,652.69 L370.16,652.08 L370.76,651.49 L371.34,650.93 L371.90,650.40 L372.42,649.90 L372.91,649.43 L373.37,649.00 L373.81,648.58 L374.23,648.18 L374.65,647.79 L375.07,647.40 L375.49,647.02 L375.93,646.64 L376.39,646.24 L376.88,645.83 L377.40,645.40 L377.95,644.95 L378.51,644.48 L379.08,644.00 L379.66,643.52 L380.26,643.03 L380.87,642.54 L381.50,642.05 L382.15,641.57 L382.81,641.10 L383.49,640.65 L384.18,640.21 L384.90,639.80 L385.64,639.40 L386.42,639.00 L387.23,638.61 L388.07,638.22 L388.92,637.85 L389.77,637.49 L390.64,637.14 L391.50,636.82 L392.35,636.52 L393.19,636.25 L394.01,636.01 L394.80,635.80 L395.56,635.62 L396.31,635.47 L397.03,635.35 L397.74,635.26 L398.45,635.18 L399.15,635.13 L399.85,635.10 L400.56,635.09 L401.27,635.09 L401.99,635.12 L402.74,635.15 L403.50,635.20 L404.28,635.26 L405.07,635.33 L405.86,635.42 L406.66,635.53 L407.47,635.65 L408.29,635.79 L409.12,635.95 L409.96,636.13 L410.81,636.33 L411.66,636.56 L412.53,636.82 L413.40,637.10 L414.29,637.41 L415.21,637.75 L416.14,638.12 L417.09,638.51 L418.04,638.92 L419.00,639.36 L419.96,639.81 L420.91,640.28 L421.86,640.77 L422.79,641.27 L423.71,641.78 L424.60,642.30 L425.47,642.84 L426.33,643.40 L427.17,643.99 L428.00,644.60 L428.82,645.22 L429.63,645.86 L430.44,646.50 L431.25,647.14 L432.06,647.79 L432.87,648.44 L433.68,649.07 L434.50,649.70 L435.34,650.34 L436.21,651.00 L437.09,651.67 L437.98,652.36 L438.87,653.04 L439.76,653.72 L440.62,654.38 L441.46,655.02 L442.27,655.63 L443.03,656.20 L443.75,656.73 L444.40,657.20 L445.00,657.62 L445.57,658.01 L446.11,658.36 L446.61,658.67 L447.08,658.96 L447.52,659.22 L447.92,659.45 L448.29,659.66 L448.62,659.85 L448.91,660.01 L449.17,660.16 L449.40,660.30" fill="none" stroke="#5a5a5a" stroke-width="1.0"/>
<line x1="288.90" y1="609.20" x2="455.60" y2="609.20" stroke="#c4c4c4" stroke-width="1.1"/>
<line x1="455.60" y1="609.20" x2="455.60" y2="719.90" stroke="#c4c4c4" stroke-width="1.1"/>
<line x1="288.90" y1="719.90" x2="455.60" y2="719.90" stroke="#a8a8a8" stroke-width="1.1"/>
<line x1="288.90" y1="609.20" x2="288.90" y2="719.90" stroke="#dadada" stroke-width="1.1"/>
<line x1="285.90" y1="703.70" x2="288.90" y2="703.70" stroke="#888" stroke-width="1"/>
<line x1="285.90" y1="678.30" x2="288.90" y2="678.30" stroke="#888" stroke-width="1"/>
<line x1="285.90" y1="652.90" x2="288.90" y2="652.90" stroke="#888" stroke-width="1"/>
<line x1="285.90" y1="627.50" x2="288.90" y2="627.50" stroke="#888" stroke-width="1"/>
<text x="285.60" y="708.45" font-size="13.9" text-anchor="end" font-weight="normal" fill="#2b2b2b" stroke="#2b2b2b" stroke-width="0.45">-0.4</text>
<text x="285.60" y="683.05" font-size="13.9" text-anchor="end" font-weight="normal" fill="#2b2b2b" stroke="#2b2b2b" stroke-width="0.45">-0.2</text>
<text x="285.60" y="657.65" font-size="13.9" text-anchor="end" font-weight="normal" fill="#2b2b2b" stroke="#2b2b2b" stroke-width="0.45">0.0</text>
<text x="285.60" y="632.25" font-size="13.9" text-anchor="end" font-weight="normal" fill="#2b2b2b" stroke="#2b2b2b" stroke-width="0.45">0.2</text>
<line x1="295.10" y1="719.90" x2="295.10" y2="722.90" stroke="#bbb" stroke-width="1"/>
<text x="294.60" y="735.80" font-size="13.9" text-anchor="middle" font-weight="normal" fill="#2b2b2b" stroke="#2b2b2b" stroke-width="0.45">-1.0</text>
<line x1="333.77" y1="719.90" x2="333.77" y2="722.90" stroke="#bbb" stroke-width="1"/>
<text x="333.27" y="735.80" font-size="13.9" text-anchor="middle" font-weight="normal" fill="#2b2b2b" stroke="#2b2b2b" stroke-width="0.45">-0.5</text>
<line x1="372.45" y1="719.90" x2="372.45" y2="722.90" stroke="#bbb" stroke-width="1"/>
<text x="371.95" y="735.80" font-size="13.9" text-anchor="middle" font-weight="normal" fill="#2b2b2b" stroke="#2b2b2b" stroke-width="0.45">0.0</text>
<line x1="411.12" y1="719.90" x2="411.12" y2="722.90" stroke="#bbb" stroke-width="1"/>
<text x="410.62" y="735.80" font-size="13.9" text-anchor="middle" font-weight="normal" fill="#2b2b2b" stroke="#2b2b2b" stroke-width="0.45">0.5</text>
<line x1="449.80" y1="719.90" x2="449.80" y2="722.90" stroke="#bbb" stroke-width="1"/>
<text x="449.30" y="735.80" font-size="13.9" text-anchor="middle" font-weight="normal" fill="#2b2b2b" stroke="#2b2b2b" stroke-width="0.45">1.0</text>
<text x="252.60" y="611.60" font-size="14.1" text-anchor="middle" font-weight="normal" fill="#2b2b2b" stroke="#2b2b2b" stroke-width="0.45">f)</text>
<text x="255.40" y="664.60" font-size="14.0" text-anchor="middle" font-weight="normal" fill="#2b2b2b" stroke="#2b2b2b" stroke-width="0.45" transform="rotate(-90 255.4 664.6)">s(NTOD, 2.79)</text>
<text x="381.40" y="750.60" font-size="14.1" text-anchor="middle" font-weight="normal" fill="#2b2b2b" stroke="#2b2b2b" stroke-width="0.45">NTOD***</text>
<path d="M295.20,716.20V719.70M296.65,716.20V719.70M298.10,716.20V719.70" stroke="#555" stroke-width="0.95" fill="none"/>
<path d="M300.40,716.20V719.70M301.85,716.20V719.70M303.30,716.20V719.70" stroke="#555" stroke-width="0.95" fill="none"/>
<path d="M305.40,716.20V719.70M306.85,716.20V719.70" stroke="#444" stroke-width="0.95" fill="none"/>
<path d="M310.70,716.20V719.70M312.15,716.20V719.70M313.60,716.20V719.70M315.05,716.20V719.70M316.50,716.20V719.70M317.95,716.20V719.70" stroke="#333" stroke-width="0.95" fill="none"/>
<path d="M326.20,716.20V719.70M327.65,716.20V719.70" stroke="#333" stroke-width="0.95" fill="none"/>
<path d="M339.30,716.20V719.70M340.75,716.20V719.70M342.20,716.20V719.70" stroke="#222" stroke-width="0.95" fill="none"/>
<path d="M350.40,716.20V719.70M351.85,716.20V719.70M353.30,716.20V719.70M354.75,716.20V719.70M356.20,716.20V719.70M357.65,716.20V719.70" stroke="#333" stroke-width="0.95" fill="none"/>
<path d="M361.60,716.20V719.70M363.05,716.20V719.70M364.50,716.20V719.70M365.95,716.20V719.70M367.40,716.20V719.70M368.85,716.20V719.70M370.30,716.20V719.70M371.75,716.20V719.70M373.20,716.20V719.70M374.65,716.20V719.70M376.10,716.20V719.70M377.55,716.20V719.70M379.00,716.20V719.70M380.45,716.20V719.70M381.90,716.20V719.70M383.35,716.20V719.70" stroke="#2a2a2a" stroke-width="0.95" fill="none"/>
<path d="M388.40,716.20V719.70M389.85,716.20V719.70M391.30,716.20V719.70M392.75,716.20V719.70M394.20,716.20V719.70M395.65,716.20V719.70" stroke="#333" stroke-width="0.95" fill="none"/>
<path d="M403.20,716.20V719.70M404.65,716.20V719.70M406.10,716.20V719.70" stroke="#222" stroke-width="0.95" fill="none"/>
<path d="M416.70,716.20V719.70" stroke="#222" stroke-width="0.95" fill="none"/>
<path d="M420.90,716.20V719.70" stroke="#444" stroke-width="0.95" fill="none"/>
<path d="M427.60,716.20V719.70M429.05,716.20V719.70M430.50,716.20V719.70M431.95,716.20V719.70M433.40,716.20V719.70M434.85,716.20V719.70M436.30,716.20V719.70" stroke="#3a3a3a" stroke-width="0.95" fill="none"/>
<path d="M439.20,716.20V719.70M440.65,716.20V719.70M442.10,716.20V719.70M443.55,716.20V719.70M445.00,716.20V719.70M446.45,716.20V719.70" stroke="#777" stroke-width="0.95" fill="none"/>
<path d="M449.70,716.20V719.70" stroke="#666" stroke-width="1.0" fill="none"/>
<line x1="517.60" y1="610.90" x2="683.30" y2="610.90" stroke="#c4c4c4" stroke-width="1.1"/>
<line x1="683.30" y1="610.90" x2="683.30" y2="721.00" stroke="#cfcfcf" stroke-width="1.1"/>
<line x1="517.60" y1="721.00" x2="683.30" y2="721.00" stroke="#b8b8b8" stroke-width="1.1"/>
<line x1="517.60" y1="610.90" x2="517.60" y2="721.00" stroke="#cfcfcf" stroke-width="1.1"/>
<line x1="514.80" y1="709.20" x2="517.60" y2="709.20" stroke="#666" stroke-width="1"/>
<text x="513.60" y="713.95" font-size="13.9" text-anchor="end" font-weight="normal" fill="#2b2b2b" stroke="#2b2b2b" stroke-width="0.45">0.0</text>
<line x1="514.80" y1="689.98" x2="517.60" y2="689.98" stroke="#666" stroke-width="1"/>
<text x="513.60" y="694.73" font-size="13.9" text-anchor="end" font-weight="normal" fill="#2b2b2b" stroke="#2b2b2b" stroke-width="0.45">0.1</text>
<line x1="514.80" y1="670.76" x2="517.60" y2="670.76" stroke="#666" stroke-width="1"/>
<text x="513.60" y="675.51" font-size="13.9" text-anchor="end" font-weight="normal" fill="#2b2b2b" stroke="#2b2b2b" stroke-width="0.45">0.2</text>
<line x1="514.80" y1="651.54" x2="517.60" y2="651.54" stroke="#666" stroke-width="1"/>
<text x="513.60" y="656.29" font-size="13.9" text-anchor="end" font-weight="normal" fill="#2b2b2b" stroke="#2b2b2b" stroke-width="0.45">0.3</text>
<line x1="514.80" y1="632.32" x2="517.60" y2="632.32" stroke="#666" stroke-width="1"/>
<text x="513.60" y="637.07" font-size="13.9" text-anchor="end" font-weight="normal" fill="#2b2b2b" stroke="#2b2b2b" stroke-width="0.45">0.4</text>
<line x1="514.80" y1="613.10" x2="517.60" y2="613.10" stroke="#666" stroke-width="1"/>
<text x="513.60" y="617.85" font-size="13.9" text-anchor="end" font-weight="normal" fill="#2b2b2b" stroke="#2b2b2b" stroke-width="0.45">0.5</text>
<line x1="533.30" y1="721.00" x2="533.30" y2="724.50" stroke="#aaa" stroke-width="1"/>
<text x="533.30" y="736.60" font-size="13.9" text-anchor="middle" font-weight="normal" fill="#2b2b2b" stroke="#2b2b2b" stroke-width="0.45">0</text>
<line x1="568.54" y1="721.00" x2="568.54" y2="724.50" stroke="#aaa" stroke-width="1"/>
<text x="568.54" y="736.60" font-size="13.9" text-anchor="middle" font-weight="normal" fill="#2b2b2b" stroke="#2b2b2b" stroke-width="0.45">20</text>
<line x1="603.78" y1="721.00" x2="603.78" y2="724.50" stroke="#aaa" stroke-width="1"/>
<text x="603.78" y="736.60" font-size="13.9" text-anchor="middle" font-weight="normal" fill="#2b2b2b" stroke="#2b2b2b" stroke-width="0.45">40</text>
<line x1="639.02" y1="721.00" x2="639.02" y2="724.50" stroke="#aaa" stroke-width="1"/>
<text x="639.02" y="736.60" font-size="13.9" text-anchor="middle" font-weight="normal" fill="#2b2b2b" stroke="#2b2b2b" stroke-width="0.45">60</text>
<line x1="674.26" y1="721.00" x2="674.26" y2="724.50" stroke="#aaa" stroke-width="1"/>
<text x="674.26" y="736.60" font-size="13.9" text-anchor="middle" font-weight="normal" fill="#2b2b2b" stroke="#2b2b2b" stroke-width="0.45">80</text>
<text x="473.30" y="611.40" font-size="14.1" text-anchor="middle" font-weight="normal" fill="#2b2b2b" stroke="#2b2b2b" stroke-width="0.45">g)</text>
<text x="490.30" y="667.00" font-size="14.15" text-anchor="middle" font-weight="normal" fill="#2b2b2b" stroke="#2b2b2b" stroke-width="0.45" transform="rotate(-90 490.3 667.0)">Partial for Acoustic Pres</text>
<text x="603.80" y="750.60" font-size="14.1" text-anchor="middle" font-weight="normal" fill="#2b2b2b" stroke="#2b2b2b" stroke-width="0.45">Acoustic Presence*</text>
<line x1="533.30" y1="709.20" x2="677.40" y2="617.90" stroke="#8a8a8a" stroke-width="0.9" stroke-dasharray="1.3,0.7"/>
<line x1="533.30" y1="709.20" x2="677.40" y2="662.80" stroke="#5e5e5e" stroke-width="0.95"/>
<line x1="533.30" y1="709.40" x2="611.80" y2="708.90" stroke="#aaa" stroke-width="0.8" stroke-dasharray="1.2,0.8"/>
<line x1="611.80" y1="708.40" x2="677.50" y2="708.40" stroke="#777" stroke-width="0.9" stroke-dasharray="1.6,0.9"/>
<path d="M533.60,711.90V717.50" stroke="#333" stroke-width="1.2" fill="none"/>
<path d="M537.30,711.90V717.50M538.65,711.90V717.50M540.00,711.90V717.50M541.35,711.90V717.50M542.70,711.90V717.50M544.05,711.90V717.50M545.40,711.90V717.50M546.75,711.90V717.50M548.10,711.90V717.50M549.45,711.90V717.50M550.80,711.90V717.50M552.15,711.90V717.50M553.50,711.90V717.50M554.85,711.90V717.50M556.20,711.90V717.50M557.55,711.90V717.50M558.90,711.90V717.50M560.25,711.90V717.50M561.60,711.90V717.50M562.95,711.90V717.50M564.30,711.90V717.50M565.65,711.90V717.50M567.00,711.90V717.50M568.35,711.90V717.50M569.70,711.90V717.50M571.05,711.90V717.50M572.40,711.90V717.50M573.75,711.90V717.50M575.10,711.90V717.50M576.45,711.90V717.50M577.80,711.90V717.50M579.15,711.90V717.50M580.50,711.90V717.50M581.85,711.90V717.50M583.20,711.90V717.50M584.55,711.90V717.50M585.90,711.90V717.50M587.25,711.90V717.50M588.60,711.90V717.50M589.95,711.90V717.50M591.30,711.90V717.50M592.65,711.90V717.50M594.00,711.90V717.50M595.35,711.90V717.50M596.70,711.90V717.50M598.05,711.90V717.50M599.40,711.90V717.50M600.75,711.90V717.50M602.10,711.90V717.50M603.45,711.90V717.50M604.80,711.90V717.50M606.15,711.90V717.50M607.50,711.90V717.50M608.85,711.90V717.50M610.20,711.90V717.50M611.55,711.90V717.50" stroke="#555" stroke-width="0.9" fill="none"/>
<path d="M614.30,711.90V717.50M616.00,711.90V717.50M617.80,711.90V717.50M619.50,711.90V717.50" stroke="#999" stroke-width="0.9" fill="none"/>
<path d="M626.00,711.90V717.50" stroke="#333" stroke-width="1.1" fill="none"/>
<path d="M629.80,711.90V717.50M631.80,711.90V717.50M634.00,711.90V717.50M636.00,711.90V717.50" stroke="#777" stroke-width="0.9" fill="none"/>
<path d="M639.70,711.90V717.50M650.20,711.90V717.50M653.30,711.90V717.50M655.20,711.90V717.50" stroke="#666" stroke-width="1.0" fill="none"/>
<path d="M643.40,711.90V717.50M646.50,711.90V717.50M672.00,711.90V717.50M675.00,711.90V717.50M677.50,711.90V717.50" stroke="#aaa" stroke-width="1.0" fill="none"/>
</svg>
</body></html>
